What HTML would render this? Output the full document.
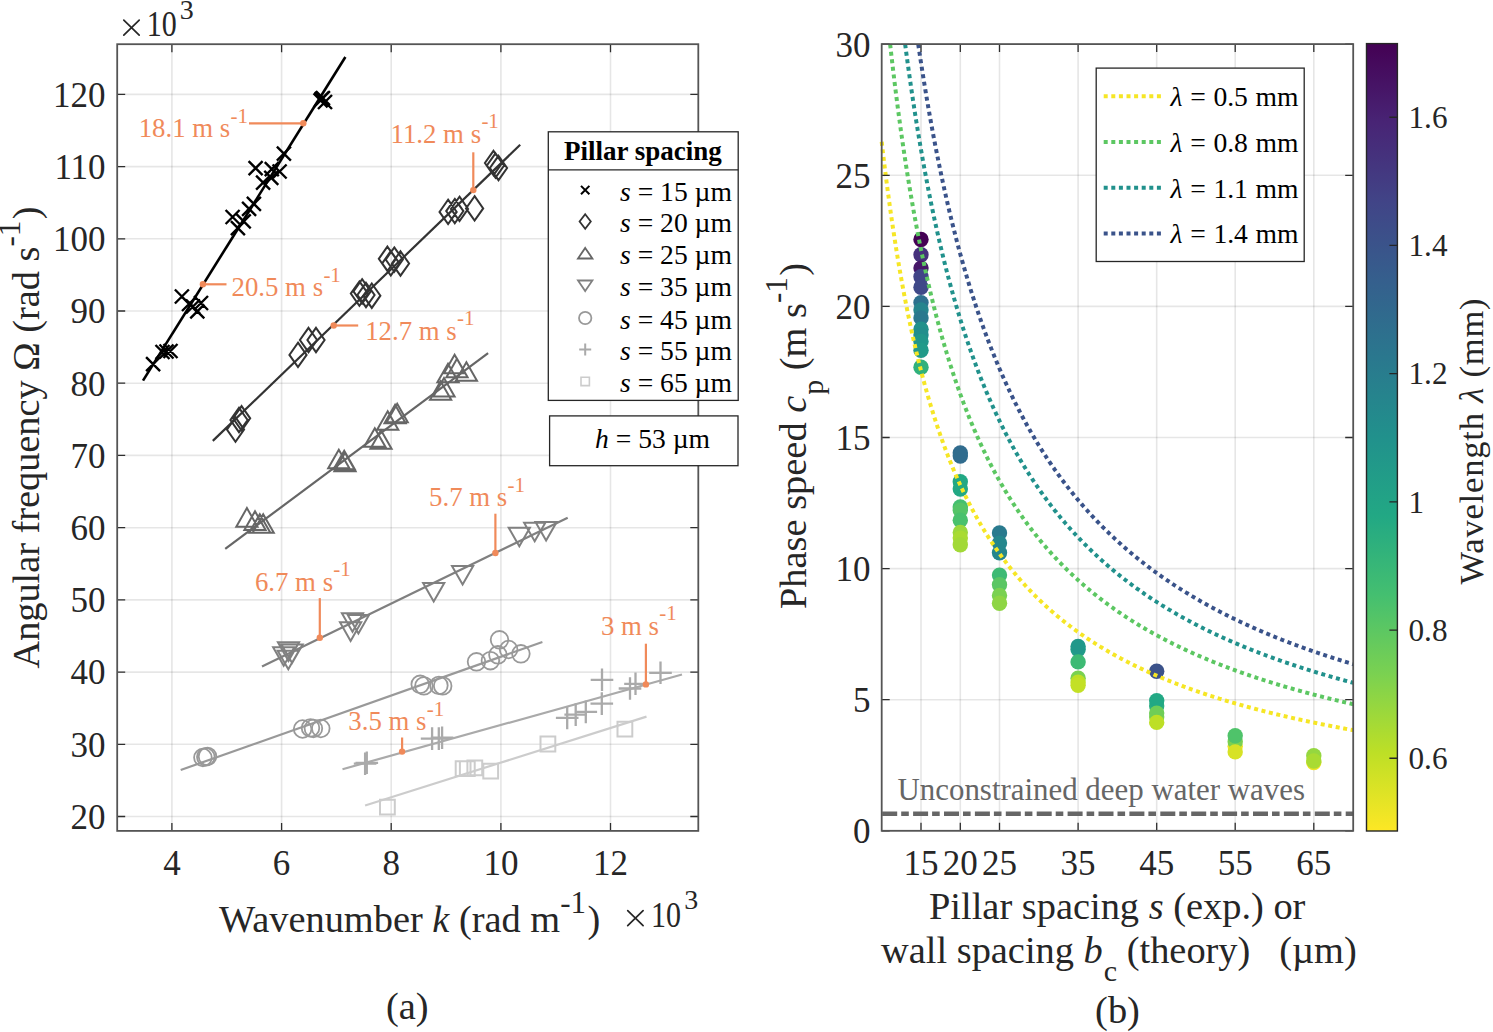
<!DOCTYPE html>
<html><head><meta charset="utf-8"><style>html,body{margin:0;padding:0;background:#fff;width:1493px;height:1032px;overflow:hidden}</style></head>
<body>
<svg width="1493" height="1032" viewBox="0 0 1493 1032" style="display:block;font-family:&quot;Liberation Serif&quot;,serif">
<rect width="100%" height="100%" fill="#fff"/>
<path d="M171.9 44.2V830.9M281.6 44.2V830.9M391.2 44.2V830.9M500.9 44.2V830.9M610.5 44.2V830.9" stroke="#262626" stroke-opacity="0.115" stroke-width="1.6" fill="none"/>
<path d="M117.2 816.5H698.3M117.2 744.3H698.3M117.2 672.1H698.3M117.2 599.9H698.3M117.2 527.7H698.3M117.2 455.4H698.3M117.2 383.2H698.3M117.2 311.0H698.3M117.2 238.8H698.3M117.2 166.6H698.3M117.2 94.4H698.3" stroke="#262626" stroke-opacity="0.115" stroke-width="1.6" fill="none"/>
<path d="M143.0 380.6L345.4 57.0" stroke="#000000" stroke-width="2.6" fill="none"/>
<path d="M146.1 357.1L160.1 371.1M146.1 371.1L160.1 357.1M155.5 345.0L169.5 359.0M155.5 359.0L169.5 345.0M159.5 344.5L173.5 358.5M159.5 358.5L173.5 344.5M163.5 344.0L177.5 358.0M163.5 358.0L177.5 344.0M174.9 289.5L188.9 303.5M174.9 303.5L188.9 289.5M182.0 297.0L196.0 311.0M182.0 311.0L196.0 297.0M186.0 299.5L200.0 313.5M186.0 313.5L200.0 299.5M190.3 304.4L204.3 318.4M190.3 318.4L204.3 304.4M194.0 296.0L208.0 310.0M194.0 310.0L208.0 296.0M225.6 210.0L239.6 224.0M225.6 224.0L239.6 210.0M230.9 221.1L244.9 235.1M230.9 235.1L244.9 221.1M236.7 214.4L250.7 228.4M236.7 228.4L250.7 214.4M242.1 201.8L256.1 215.8M242.1 215.8L256.1 201.8M246.9 196.9L260.9 210.9M246.9 210.9L260.9 196.9M248.6 161.1L262.6 175.1M248.6 175.1L262.6 161.1M256.1 175.6L270.1 189.6M256.1 189.6L270.1 175.6M264.3 170.8L278.3 184.8M264.3 184.8L278.3 170.8M264.8 162.1L278.8 176.1M264.8 176.1L278.8 162.1M272.6 164.5L286.6 178.5M272.6 178.5L286.6 164.5M276.9 146.6L290.9 160.6M276.9 160.6L290.9 146.6M313.6 93.4L327.6 107.4M313.6 107.4L327.6 93.4M314.7 91.8L328.7 105.8M314.7 105.8L328.7 91.8M315.9 91.1L329.9 105.1M315.9 105.1L329.9 91.1M318.0 95.0L332.0 109.0M318.0 109.0L332.0 95.0" stroke="#000000" stroke-width="2.4" fill="none" stroke-linejoin="miter"/>
<path d="M212.8 440.9L520.2 144.8" stroke="#333333" stroke-width="2.2" fill="none"/>
<path d="M235.5 417.4L244.1 429.6L235.5 441.8L226.9 429.6ZM239.0 407.8L247.6 420.0L239.0 432.2L230.4 420.0ZM241.6 406.1L250.2 418.3L241.6 430.5L233.0 418.3ZM298.0 342.7L306.6 354.9L298.0 367.1L289.4 354.9ZM308.5 327.8L317.1 340.0L308.5 352.2L299.9 340.0ZM316.0 327.8L324.6 340.0L316.0 352.2L307.4 340.0ZM359.4 281.4L368.0 293.6L359.4 305.8L350.8 293.6ZM362.1 279.2L370.7 291.4L362.1 303.6L353.5 291.4ZM366.0 282.8L374.6 295.0L366.0 307.2L357.4 295.0ZM371.8 283.5L380.4 295.7L371.8 307.9L363.2 295.7ZM387.4 246.6L396.0 258.8L387.4 271.0L378.8 258.8ZM390.8 251.1L399.4 263.3L390.8 275.5L382.2 263.3ZM394.3 247.4L402.9 259.6L394.3 271.8L385.7 259.6ZM400.5 251.3L409.1 263.5L400.5 275.7L391.9 263.5ZM448.1 199.7L456.7 211.9L448.1 224.1L439.5 211.9ZM454.8 198.9L463.4 211.1L454.8 223.3L446.2 211.1ZM459.5 196.7L468.1 208.9L459.5 221.1L450.9 208.9ZM474.6 196.2L483.2 208.4L474.6 220.6L466.0 208.4ZM493.5 150.8L502.1 163.0L493.5 175.2L484.9 163.0ZM495.5 153.3L504.1 165.5L495.5 177.7L486.9 165.5ZM498.5 155.8L507.1 168.0L498.5 180.2L489.9 168.0Z" stroke="#333333" stroke-width="2.0" fill="none" stroke-linejoin="miter"/>
<path d="M225.2 548.9L488.1 353.2" stroke="#666666" stroke-width="2.2" fill="none"/>
<path d="M246.9 508.1L257.5 526.7L236.3 526.7ZM255.0 511.3L265.6 529.9L244.4 529.9ZM259.8 514.2L270.4 532.8L249.2 532.8ZM263.2 514.2L273.8 532.8L252.6 532.8ZM338.8 449.7L349.4 468.3L328.2 468.3ZM344.2 450.7L354.8 469.3L333.6 469.3ZM345.0 452.7L355.6 471.3L334.4 471.3ZM374.8 428.2L385.4 446.8L364.2 446.8ZM381.0 430.2L391.6 448.8L370.4 448.8ZM387.7 411.2L398.3 429.8L377.1 429.8ZM395.1 404.7L405.7 423.3L384.5 423.3ZM397.2 403.7L407.8 422.3L386.6 422.3ZM440.6 381.2L451.2 399.8L430.0 399.8ZM444.0 378.0L454.6 396.6L433.4 396.6ZM448.0 363.7L458.6 382.3L437.4 382.3ZM454.6 354.7L465.2 373.3L444.0 373.3ZM457.0 358.7L467.6 377.3L446.4 377.3ZM466.4 362.2L477.0 380.8L455.8 380.8Z" stroke="#666666" stroke-width="2.0" fill="none" stroke-linejoin="miter"/>
<path d="M262.0 666.4L567.7 517.7" stroke="#808080" stroke-width="2.2" fill="none"/>
<path d="M288.5 660.9L299.1 642.3L277.9 642.3ZM283.7 665.8L294.3 647.2L273.1 647.2ZM292.1 663.1L302.7 644.5L281.5 644.5ZM288.3 669.3L298.9 650.7L277.7 650.7ZM352.5 631.8L363.1 613.2L341.9 613.2ZM350.6 640.9L361.2 622.3L340.0 622.3ZM358.4 633.6L369.0 615.0L347.8 615.0ZM433.7 601.6L444.3 583.0L423.1 583.0ZM462.6 584.6L473.2 566.0L452.0 566.0ZM519.3 546.3L529.9 527.7L508.7 527.7ZM534.7 541.3L545.3 522.7L524.1 522.7ZM546.1 540.6L556.7 522.0L535.5 522.0Z" stroke="#808080" stroke-width="2.0" fill="none" stroke-linejoin="miter"/>
<path d="M180.7 770.0L542.4 642.0" stroke="#999999" stroke-width="2.2" fill="none"/>
<circle cx="202.9" cy="757.5" r="8.8" stroke="#999999" stroke-width="1.8" fill="none"/><circle cx="205.8" cy="756.9" r="8.8" stroke="#999999" stroke-width="1.8" fill="none"/><circle cx="207.5" cy="756.4" r="8.8" stroke="#999999" stroke-width="1.8" fill="none"/><circle cx="302.6" cy="729" r="8.8" stroke="#999999" stroke-width="1.8" fill="none"/><circle cx="310.5" cy="727.9" r="8.8" stroke="#999999" stroke-width="1.8" fill="none"/><circle cx="313.4" cy="728.5" r="8.8" stroke="#999999" stroke-width="1.8" fill="none"/><circle cx="320.8" cy="728.5" r="8.8" stroke="#999999" stroke-width="1.8" fill="none"/><circle cx="420.2" cy="684.3" r="8.8" stroke="#999999" stroke-width="1.8" fill="none"/><circle cx="423.9" cy="685.9" r="8.8" stroke="#999999" stroke-width="1.8" fill="none"/><circle cx="438.9" cy="685.4" r="8.8" stroke="#999999" stroke-width="1.8" fill="none"/><circle cx="442.7" cy="685.9" r="8.8" stroke="#999999" stroke-width="1.8" fill="none"/><circle cx="476.5" cy="661.8" r="8.8" stroke="#999999" stroke-width="1.8" fill="none"/><circle cx="490.4" cy="660.7" r="8.8" stroke="#999999" stroke-width="1.8" fill="none"/><circle cx="497.9" cy="654.8" r="8.8" stroke="#999999" stroke-width="1.8" fill="none"/><circle cx="499.5" cy="639.8" r="8.8" stroke="#999999" stroke-width="1.8" fill="none"/><circle cx="508.6" cy="649.5" r="8.8" stroke="#999999" stroke-width="1.8" fill="none"/><circle cx="520.9" cy="653.8" r="8.8" stroke="#999999" stroke-width="1.8" fill="none"/>
<path d="M342.5 769.2L682.0 674.5" stroke="#aaaaaa" stroke-width="2.2" fill="none"/>
<path d="M353.8 763.7H376.4M365.1 752.4V775.0M355.5 762.8H378.1M366.8 751.5V774.1M420.8 738.6H443.4M432.1 727.3V749.9M427.5 738.6H450.1M438.8 727.3V749.9M430.8 737.7H453.4M442.1 726.4V749.0M555.9 717.9H578.5M567.2 706.6V729.2M564.4 714.6H587.0M575.7 703.3V725.9M574.5 711.9H597.1M585.8 700.6V723.2M590.5 703.6H613.1M601.8 692.3V714.9M590.7 679.8H613.3M602.0 668.5V691.1M618.7 688.5H641.3M630.0 677.2V699.8M624.2 683.8H646.8M635.5 672.5V695.1M649.2 672.8H671.8M660.5 661.5V684.1" stroke="#aaaaaa" stroke-width="2.3" fill="none" stroke-linejoin="miter"/>
<path d="M365.1 805.5L646.5 716.6" stroke="#cccccc" stroke-width="2.2" fill="none"/>
<path d="M380.0 799.8H394.8V814.6H380.0ZM455.7 761.3H470.5V776.1H455.7ZM459.9 761.3H474.7V776.1H459.9ZM467.4 760.5H482.2V775.3H467.4ZM483.3 763.8H498.1V778.6H483.3ZM540.5 736.6H555.3V751.4H540.5ZM617.5 721.8H632.3V736.6H617.5Z" stroke="#cccccc" stroke-width="2.0" fill="none" stroke-linejoin="miter"/>
<text x="138.7" y="137.2" font-size="26.8" fill="#F08A5A">18.1 m s<tspan font-size="21" dx="0.3" dy="-14.5">-1</tspan></text>
<path d="M249 123.3H303.3" stroke="#F08A5A" stroke-width="2.2" fill="none"/>
<circle cx="303.3" cy="123.3" r="3.2" fill="#F08A5A"/>
<text x="231.5" y="296.3" font-size="26.8" fill="#F08A5A">20.5 m s<tspan font-size="21" dx="0.3" dy="-14.5">-1</tspan></text>
<path d="M202.9 284.3H226.5" stroke="#F08A5A" stroke-width="2.2" fill="none"/>
<circle cx="202.9" cy="284.3" r="3.2" fill="#F08A5A"/>
<text x="390.5" y="142.9" font-size="26.8" fill="#F08A5A">11.2 m s<tspan font-size="21" dx="0.3" dy="-14.5">-1</tspan></text>
<path d="M473.3 152.3V190.1" stroke="#F08A5A" stroke-width="2.2" fill="none"/>
<circle cx="473.3" cy="190.1" r="3.2" fill="#F08A5A"/>
<text x="365.2" y="339.9" font-size="26.8" fill="#F08A5A">12.7 m s<tspan font-size="21" dx="0.3" dy="-14.5">-1</tspan></text>
<path d="M333.7 325.5H358.2" stroke="#F08A5A" stroke-width="2.2" fill="none"/>
<circle cx="333.7" cy="325.5" r="3.2" fill="#F08A5A"/>
<text x="429.1" y="506.2" font-size="26.8" fill="#F08A5A">5.7 m s<tspan font-size="21" dx="0.3" dy="-14.5">-1</tspan></text>
<path d="M495.4 513.7V553" stroke="#F08A5A" stroke-width="2.2" fill="none"/>
<circle cx="495.4" cy="553" r="3.2" fill="#F08A5A"/>
<text x="254.9" y="590.6" font-size="26.8" fill="#F08A5A">6.7 m s<tspan font-size="21" dx="0.3" dy="-14.5">-1</tspan></text>
<path d="M319.8 598.1V637.8" stroke="#F08A5A" stroke-width="2.2" fill="none"/>
<circle cx="319.8" cy="637.8" r="3.2" fill="#F08A5A"/>
<text x="600.9" y="634.7" font-size="26.8" fill="#F08A5A">3 m s<tspan font-size="21" dx="0.3" dy="-14.5">-1</tspan></text>
<path d="M645.9 643.7V684.4" stroke="#F08A5A" stroke-width="2.2" fill="none"/>
<circle cx="645.9" cy="684.4" r="3.2" fill="#F08A5A"/>
<text x="348.3" y="730.0" font-size="26.8" fill="#F08A5A">3.5 m s<tspan font-size="21" dx="0.3" dy="-14.5">-1</tspan></text>
<path d="M402.1 737.5V751.6" stroke="#F08A5A" stroke-width="2.2" fill="none"/>
<circle cx="402.1" cy="751.6" r="3.2" fill="#F08A5A"/>
<path d="M171.9 830.9v-8M171.9 44.2v8M281.6 830.9v-8M281.6 44.2v8M391.2 830.9v-8M391.2 44.2v8M500.9 830.9v-8M500.9 44.2v8M610.5 830.9v-8M610.5 44.2v8M117.2 816.5h8M698.3 816.5h-8M117.2 744.3h8M698.3 744.3h-8M117.2 672.1h8M698.3 672.1h-8M117.2 599.9h8M698.3 599.9h-8M117.2 527.7h8M698.3 527.7h-8M117.2 455.4h8M698.3 455.4h-8M117.2 383.2h8M698.3 383.2h-8M117.2 311.0h8M698.3 311.0h-8M117.2 238.8h8M698.3 238.8h-8M117.2 166.6h8M698.3 166.6h-8M117.2 94.4h8M698.3 94.4h-8" stroke="#2e2e2e" stroke-width="1.3" fill="none"/>
<rect x="117.2" y="44.2" width="581.1" height="786.7" stroke="#555555" stroke-width="1.8" fill="none"/>
<text x="171.9" y="874.6" font-size="35" text-anchor="middle" fill="#262626" >4</text>
<text x="281.6" y="874.6" font-size="35" text-anchor="middle" fill="#262626" >6</text>
<text x="391.2" y="874.6" font-size="35" text-anchor="middle" fill="#262626" >8</text>
<text x="500.9" y="874.6" font-size="35" text-anchor="middle" fill="#262626" >10</text>
<text x="610.5" y="874.6" font-size="35" text-anchor="middle" fill="#262626" >12</text>
<text x="105.6" y="828.8" font-size="35" text-anchor="end" fill="#262626" >20</text>
<text x="105.6" y="756.6" font-size="35" text-anchor="end" fill="#262626" >30</text>
<text x="105.6" y="684.4" font-size="35" text-anchor="end" fill="#262626" >40</text>
<text x="105.6" y="612.2" font-size="35" text-anchor="end" fill="#262626" >50</text>
<text x="105.6" y="540.0" font-size="35" text-anchor="end" fill="#262626" >60</text>
<text x="105.6" y="467.8" font-size="35" text-anchor="end" fill="#262626" >70</text>
<text x="105.6" y="395.5" font-size="35" text-anchor="end" fill="#262626" >80</text>
<text x="105.6" y="323.3" font-size="35" text-anchor="end" fill="#262626" >90</text>
<text x="105.6" y="251.1" font-size="35" text-anchor="end" fill="#262626" >100</text>
<text x="105.6" y="178.9" font-size="35" text-anchor="end" fill="#262626" >110</text>
<text x="105.6" y="106.7" font-size="35" text-anchor="end" fill="#262626" >120</text>
<path d="M123.8 20.1L139.2 35.1M123.8 35.1L139.2 20.1" stroke="#262626" stroke-width="1.7" stroke-linecap="round"/>
<text x="146.8" y="36.1" font-size="35" fill="#262626" textLength="30" lengthAdjust="spacingAndGlyphs">10</text>
<text x="179.8" y="19.0" font-size="28" fill="#262626">3</text>
<path d="M627.7 910.7L643.1 925.7M627.7 925.7L643.1 910.7" stroke="#262626" stroke-width="1.7" stroke-linecap="round"/>
<text x="651.0" y="926.7" font-size="35" fill="#262626" textLength="30" lengthAdjust="spacingAndGlyphs">10</text>
<text x="684.2" y="909.1" font-size="28" fill="#262626">3</text>
<text x="219" y="931.5" font-size="38.4" fill="#262626">Wavenumber <tspan font-style="italic">k</tspan> (rad m<tspan font-size="31" dy="-19">-1</tspan><tspan dx="1.5" dy="19">)</tspan></text>
<text transform="translate(39.4,668.5) rotate(-90)" x="0" y="0" font-size="38.3" fill="#262626">Angular frequency Ω (rad s<tspan font-size="31" dy="-19">-1</tspan><tspan dx="1.5" dy="19">)</tspan></text>
<rect x="548.3" y="131.8" width="189.9" height="268.6" fill="#fff" stroke="#262626" stroke-width="1.3"/>
<path d="M548.3 169.8H738.2" stroke="#262626" stroke-width="1.2"/>
<text x="564" y="159.7" font-size="27.0" font-weight="bold" fill="#000">Pillar spacing</text>
<path d="M581.0 185.9L589.4 194.3M581.0 194.3L589.4 185.9" stroke="#000000" stroke-width="2.0" fill="none"/>
<text x="620" y="200.7" font-size="27.6" fill="#000"><tspan font-style="italic">s</tspan> = 15 µm</text>
<path d="M585.2 214.3L590.8 221.5L585.2 228.7L579.6 221.5Z" stroke="#333333" stroke-width="1.8" fill="none"/>
<text x="620" y="232.1" font-size="27.6" fill="#000"><tspan font-style="italic">s</tspan> = 20 µm</text>
<path d="M585.2 247.9L592.4 258.5L578.0 258.5Z" stroke="#666666" stroke-width="1.8" fill="none"/>
<text x="620" y="263.8" font-size="27.6" fill="#000"><tspan font-style="italic">s</tspan> = 25 µm</text>
<path d="M585.2 291.1L592.4 280.5L578.0 280.5Z" stroke="#808080" stroke-width="1.8" fill="none"/>
<text x="620" y="296.4" font-size="27.6" fill="#000"><tspan font-style="italic">s</tspan> = 35 µm</text>
<circle cx="585.2" cy="318.0" r="6.2" stroke="#999999" stroke-width="1.8" fill="none"/>
<text x="620" y="328.6" font-size="27.6" fill="#000"><tspan font-style="italic">s</tspan> = 45 µm</text>
<path d="M579.2 349.6H591.2M585.2 343.6V355.6" stroke="#aaaaaa" stroke-width="2.0" fill="none"/>
<text x="620" y="360.2" font-size="27.6" fill="#000"><tspan font-style="italic">s</tspan> = 55 µm</text>
<path d="M581.0 377.2H589.4V385.6H581.0Z" stroke="#cccccc" stroke-width="1.6" fill="none"/>
<text x="620" y="392.0" font-size="27.6" fill="#000"><tspan font-style="italic">s</tspan> = 65 µm</text>
<rect x="549.6" y="415.9" width="188.4" height="49.8" fill="#fff" stroke="#262626" stroke-width="1.3"/>
<text x="595" y="447.8" font-size="27.6" fill="#000"><tspan font-style="italic">h</tspan> = 53 µm</text>
<text x="407.2" y="1019.0" font-size="38.4" text-anchor="middle" fill="#262626" >(a)</text>
<text x="1117.5" y="1022.6" font-size="38.4" text-anchor="middle" fill="#262626" >(b)</text>
<path d="M921.0 44.1V830.8M960.3 44.1V830.8M999.5 44.1V830.8M1078.1 44.1V830.8M1156.7 44.1V830.8M1235.2 44.1V830.8M1313.8 44.1V830.8" stroke="#262626" stroke-opacity="0.115" stroke-width="1.6" fill="none"/>
<path d="M881.7 830.8H1353.2M881.7 699.7H1353.2M881.7 568.6H1353.2M881.7 437.5H1353.2M881.7 306.4H1353.2M881.7 175.3H1353.2M881.7 44.2H1353.2" stroke="#262626" stroke-opacity="0.115" stroke-width="1.6" fill="none"/>
<path d="M882.2 813.7H1353.2" stroke="#666666" stroke-width="4.4" stroke-dasharray="15 4 7.6 4.3" fill="none"/>
<text x="897.5" y="800.1" font-size="30.9" fill="#666666">Unconstrained deep water waves</text>
<circle cx="921.0" cy="239.5" r="7.7" fill="#440154"/>
<circle cx="921.0" cy="254.8" r="7.7" fill="#45317c"/>
<circle cx="921.0" cy="268.1" r="7.7" fill="#461668"/>
<circle cx="921.0" cy="276.8" r="7.7" fill="#414487"/>
<circle cx="921.0" cy="287.3" r="7.7" fill="#3f4988"/>
<circle cx="921.0" cy="302.6" r="7.7" fill="#2d708e"/>
<circle cx="921.0" cy="310" r="7.7" fill="#26848d"/>
<circle cx="921.0" cy="317.9" r="7.7" fill="#2a788e"/>
<circle cx="921.0" cy="329.2" r="7.7" fill="#21918c"/>
<circle cx="921.0" cy="335" r="7.7" fill="#228e8c"/>
<circle cx="921.0" cy="341.4" r="7.7" fill="#21968a"/>
<circle cx="921.0" cy="350.2" r="7.7" fill="#219a89"/>
<circle cx="921.0" cy="367.2" r="7.7" fill="#30b17c"/>
<circle cx="960.3" cy="453" r="7.7" fill="#306c8e"/>
<circle cx="960.3" cy="456" r="7.7" fill="#306c8e"/>
<circle cx="960.3" cy="481.8" r="7.7" fill="#22a884"/>
<circle cx="960.3" cy="489" r="7.7" fill="#22a884"/>
<circle cx="960.3" cy="506.9" r="7.7" fill="#44bf70"/>
<circle cx="960.3" cy="510.2" r="7.7" fill="#54c467"/>
<circle cx="960.3" cy="520.3" r="7.7" fill="#49c16d"/>
<circle cx="960.3" cy="532.5" r="7.7" fill="#9cd83c"/>
<circle cx="960.3" cy="538.1" r="7.7" fill="#a9db33"/>
<circle cx="960.3" cy="544.8" r="7.7" fill="#a2d937"/>
<circle cx="999.5" cy="532.9" r="7.7" fill="#297a8e"/>
<circle cx="999.5" cy="543.1" r="7.7" fill="#25878d"/>
<circle cx="999.5" cy="552.8" r="7.7" fill="#25878d"/>
<circle cx="999.5" cy="575.1" r="7.7" fill="#3dba74"/>
<circle cx="999.5" cy="584.8" r="7.7" fill="#5ac664"/>
<circle cx="999.5" cy="595.5" r="7.7" fill="#7ad151"/>
<circle cx="999.5" cy="603.3" r="7.7" fill="#8ed544"/>
<circle cx="1078.1" cy="649.5" r="7.7" fill="#229c88"/>
<circle cx="1078.1" cy="646.4" r="7.7" fill="#21988a"/>
<circle cx="1078.1" cy="661.9" r="7.7" fill="#3dba74"/>
<circle cx="1078.1" cy="678.2" r="7.7" fill="#7ad151"/>
<circle cx="1078.1" cy="682.1" r="7.7" fill="#bddf26"/>
<circle cx="1078.1" cy="685.2" r="7.7" fill="#c3e026"/>
<circle cx="1156.7" cy="671.2" r="7.7" fill="#3b528a"/>
<circle cx="1156.7" cy="706" r="7.7" fill="#29ad80"/>
<circle cx="1156.7" cy="700.7" r="7.7" fill="#22a884"/>
<circle cx="1156.7" cy="717" r="7.7" fill="#7ad151"/>
<circle cx="1156.7" cy="713.1" r="7.7" fill="#6fcd57"/>
<circle cx="1156.7" cy="722.4" r="7.7" fill="#bddf26"/>
<circle cx="1235.2" cy="746.2" r="7.7" fill="#f0e525"/>
<circle cx="1235.2" cy="741.8" r="7.7" fill="#7ad151"/>
<circle cx="1235.2" cy="735.7" r="7.7" fill="#4fc36a"/>
<circle cx="1235.2" cy="751.9" r="7.7" fill="#d7e226"/>
<circle cx="1313.8" cy="762.5" r="7.7" fill="#f0e525"/>
<circle cx="1313.8" cy="755.8" r="7.7" fill="#95d740"/>
<circle cx="1313.8" cy="761" r="7.7" fill="#a9db33"/>
<clipPath id="rc"><rect x="881.7" y="44.1" width="471.5" height="786.7"/></clipPath>
<path d="M881.70 141.81L882.09 145.23L882.49 148.61L882.88 151.96L883.27 155.27L883.66 158.56L884.06 161.81L884.45 165.02L884.84 168.21L885.24 171.37L885.63 174.50L886.02 177.60L886.41 180.67L886.81 183.71L887.20 186.72L887.59 189.70L887.98 192.66L888.38 195.59L888.77 198.49L889.16 201.36L889.56 204.21L889.95 207.03L890.34 209.83L890.73 212.61L891.13 215.35L891.52 218.08L891.91 220.78L892.31 223.45L892.70 226.10L893.09 228.73L893.48 231.34L893.88 233.92L894.27 236.49L894.66 239.02L895.06 241.54L895.45 244.04L895.84 246.51L896.23 248.97L896.63 251.40L897.02 253.82L897.41 256.21L897.80 258.58L898.20 260.94L898.59 263.27L898.98 265.59L899.38 267.88L899.77 270.16L900.16 272.42L900.55 274.66L900.95 276.88L901.34 279.09L901.73 281.27L902.13 283.45L902.52 285.60L902.91 287.73L903.30 289.85L903.70 291.96L904.09 294.04L904.48 296.11L904.88 298.17L905.27 300.21L905.66 302.23L906.05 304.24L906.45 306.23L906.84 308.21L907.23 310.17L907.62 312.12L908.02 314.05L908.41 315.97L908.80 317.87L909.20 319.76L909.59 321.64L909.98 323.50L910.37 325.35L910.77 327.18L911.16 329.00L911.55 330.81L911.95 332.61L912.34 334.39L912.73 336.16L913.12 337.92L913.52 339.66L913.91 341.40L914.30 343.12L914.70 344.82L915.09 346.52L915.48 348.20L915.87 349.88L916.27 351.54L916.66 353.19L917.05 354.82L917.44 356.45L917.84 358.07L918.23 359.67L918.62 361.26L919.02 362.85L919.41 364.42L919.80 365.98L920.19 367.53L920.59 369.07L920.98 370.60L921.37 372.12L921.77 373.63L922.16 375.13L922.55 376.62L922.94 378.10L923.34 379.57L923.73 381.04L924.12 382.49L924.52 383.93L924.91 385.36L925.30 386.79L925.69 388.20L926.09 389.61L926.48 391.00L926.87 392.39L927.26 393.77L927.66 395.14L928.05 396.50L928.44 397.86L928.84 399.20L929.23 400.54L929.62 401.87L930.01 403.19L930.41 404.50L930.80 405.80L931.19 407.10L931.59 408.38L931.98 409.66L932.37 410.94L932.76 412.20L933.16 413.46L933.55 414.71L933.94 415.95L934.34 417.18L934.73 418.41L935.12 419.63L935.51 420.84L935.91 422.05L936.30 423.24L936.69 424.43L937.08 425.62L937.48 426.80L937.87 427.97L938.26 429.13L938.66 430.29L939.05 431.44L939.44 432.58L939.83 433.72L940.23 434.85L940.62 435.97L941.01 437.09L941.41 438.20L941.80 439.30L942.19 440.40L942.58 441.49L942.98 442.58L943.37 443.66L943.76 444.73L944.16 445.80L944.55 446.87L944.94 447.92L945.33 448.97L945.73 450.02L946.12 451.06L946.51 452.09L946.90 453.12L947.30 454.14L947.69 455.15L948.08 456.17L948.48 457.17L948.87 458.17L949.26 459.17L949.65 460.15L950.05 461.14L950.44 462.12L950.83 463.09L951.23 464.06L951.62 465.02L952.01 465.98L952.40 466.93L952.80 467.88L953.19 468.83L953.58 469.76L953.98 470.70L954.37 471.63L954.76 472.55L955.15 473.47L955.55 474.38L955.94 475.29L956.33 476.20L956.72 477.10L957.12 477.99L957.51 478.88L957.90 479.77L958.30 480.65L958.69 481.53L959.08 482.40L959.47 483.27L959.87 484.14L960.26 485.00L960.65 485.85L961.05 486.70L961.44 487.55L961.83 488.39L962.22 489.23L962.62 490.07L963.01 490.90L963.40 491.73L963.80 492.55L964.19 493.37L964.58 494.18L964.97 494.99L965.37 495.80L965.76 496.60L966.15 497.40L966.54 498.20L966.94 498.99L967.33 499.77L967.72 500.56L968.12 501.34L968.51 502.11L968.90 502.89L969.29 503.66L969.69 504.42L970.08 505.18L970.47 505.94L970.87 506.70L971.26 507.45L971.65 508.20L972.04 508.94L972.44 509.68L972.83 510.42L973.22 511.15L973.62 511.88L974.01 512.61L974.40 513.33L974.79 514.05L975.19 514.77L975.58 515.48L975.97 516.19L976.36 516.90L976.76 517.61L977.15 518.31L977.54 519.01L977.94 519.70L978.33 520.39L978.72 521.08L979.11 521.77L979.51 522.45L979.90 523.13L980.29 523.80L980.69 524.48L981.08 525.15L981.47 525.82L981.86 526.48L982.26 527.14L982.65 527.80L983.04 528.46L983.44 529.11L983.83 529.76L984.22 530.41L984.61 531.05L985.01 531.69L985.40 532.33L985.79 532.97L986.18 533.60L986.58 534.23L986.97 534.86L987.36 535.49L987.76 536.11L988.15 536.73L988.54 537.35L988.93 537.96L989.33 538.57L989.72 539.18L990.11 539.79L990.51 540.39L990.90 541.00L991.29 541.60L991.68 542.19L992.08 542.79L992.47 543.38L992.86 543.97L993.26 544.56L993.65 545.14L994.04 545.72L994.43 546.30L994.83 546.88L995.22 547.46L995.61 548.03L996.00 548.60L996.40 549.17L996.79 549.73L997.18 550.30L997.58 550.86L997.97 551.42L998.36 551.98L998.75 552.53L999.15 553.08L999.54 553.63L999.93 554.18L1000.33 554.73L1000.72 555.27L1001.11 555.81L1001.50 556.35L1001.90 556.89L1002.29 557.42L1002.68 557.96L1003.08 558.49L1003.47 559.02L1003.86 559.54L1004.25 560.07L1004.65 560.59L1005.04 561.11L1005.43 561.63L1005.82 562.15L1006.22 562.66L1006.61 563.17L1007.00 563.68L1007.40 564.19L1007.79 564.70L1008.18 565.20L1008.57 565.71L1008.97 566.21L1009.36 566.71L1009.75 567.20L1010.15 567.70L1010.54 568.19L1010.93 568.68L1011.32 569.17L1011.72 569.66L1012.11 570.15L1012.50 570.63L1012.90 571.11L1013.29 571.59L1013.68 572.07L1014.07 572.55L1014.47 573.02L1014.86 573.50L1015.25 573.97L1015.64 574.44L1016.04 574.91L1016.43 575.37L1016.82 575.84L1017.22 576.30L1017.61 576.76L1018.00 577.22L1018.39 577.68L1018.79 578.14L1019.18 578.59L1019.57 579.04L1019.97 579.50L1020.36 579.95L1020.75 580.39L1021.14 580.84L1021.54 581.28L1021.93 581.73L1022.32 582.17L1022.72 582.61L1023.11 583.05L1023.50 583.49L1023.89 583.92L1024.29 584.35L1024.68 584.79L1025.07 585.22L1025.46 585.65L1025.86 586.07L1026.25 586.50L1026.64 586.93L1027.04 587.35L1027.43 587.77L1027.82 588.19L1028.21 588.61L1028.61 589.03L1029.00 589.44L1029.39 589.86L1029.79 590.27L1030.18 590.68L1030.57 591.09L1030.96 591.50L1031.36 591.91L1031.75 592.31L1032.14 592.72L1032.54 593.12L1032.93 593.52L1033.32 593.92L1033.71 594.32L1034.11 594.72L1034.50 595.12L1034.89 595.51L1035.28 595.91L1035.68 596.30L1036.07 596.69L1036.46 597.08L1036.86 597.47L1037.25 597.85L1037.64 598.24L1038.03 598.63L1038.43 599.01L1038.82 599.39L1039.21 599.77L1039.61 600.15L1040.00 600.53L1040.39 600.91L1040.78 601.28L1041.18 601.66L1041.57 602.03L1041.96 602.40L1042.36 602.77L1042.75 603.14L1043.14 603.51L1043.53 603.88L1043.93 604.24L1044.32 604.61L1044.71 604.97L1045.10 605.33L1045.50 605.69L1045.89 606.05L1046.28 606.41L1046.68 606.77L1047.07 607.13L1047.46 607.48L1047.85 607.84L1048.25 608.19L1048.64 608.54L1049.03 608.89L1049.43 609.24L1049.82 609.59L1050.21 609.94L1050.60 610.28L1051.00 610.63L1051.39 610.97L1051.78 611.32L1052.18 611.66L1052.57 612.00L1052.96 612.34L1053.35 612.68L1053.75 613.02L1054.14 613.35L1054.53 613.69L1054.92 614.02L1055.32 614.36L1055.71 614.69L1056.10 615.02L1056.50 615.35L1056.89 615.68L1057.28 616.01L1057.67 616.34L1058.07 616.66L1058.46 616.99L1058.85 617.31L1059.25 617.64L1059.64 617.96L1060.03 618.28L1060.42 618.60L1060.82 618.92L1061.21 619.24L1061.60 619.56L1062.00 619.87L1062.39 620.19L1062.78 620.50L1063.17 620.82L1063.57 621.13L1063.96 621.44L1064.35 621.75L1064.74 622.06L1065.14 622.37L1065.53 622.68L1065.92 622.99L1066.32 623.29L1066.71 623.60L1067.10 623.90L1067.49 624.21L1067.89 624.51L1068.28 624.81L1068.67 625.11L1069.07 625.41L1069.46 625.71L1069.85 626.01L1070.24 626.31L1070.64 626.60L1071.03 626.90L1071.42 627.19L1071.82 627.49L1072.21 627.78L1072.60 628.07L1072.99 628.36L1073.39 628.65L1073.78 628.94L1074.17 629.23L1074.56 629.52L1074.96 629.81L1075.35 630.09L1075.74 630.38L1076.14 630.66L1076.53 630.95L1076.92 631.23L1077.31 631.51L1077.71 631.79L1078.10 632.07L1078.49 632.35L1078.89 632.63L1079.28 632.91L1079.67 633.19L1080.06 633.46L1080.46 633.74L1080.85 634.02L1081.24 634.29L1081.64 634.56L1082.03 634.84L1082.42 635.11L1082.81 635.38L1083.21 635.65L1083.60 635.92L1083.99 636.19L1084.38 636.46L1084.78 636.72L1085.17 636.99L1085.56 637.26L1085.96 637.52L1086.35 637.79L1086.74 638.05L1087.13 638.31L1087.53 638.57L1087.92 638.84L1088.31 639.10L1088.71 639.36L1089.10 639.62L1089.49 639.88L1089.88 640.13L1090.28 640.39L1090.67 640.65L1091.06 640.90L1091.46 641.16L1091.85 641.41L1092.24 641.67L1092.63 641.92L1093.03 642.17L1093.42 642.42L1093.81 642.67L1094.20 642.92L1094.60 643.17L1094.99 643.42L1095.38 643.67L1095.78 643.92L1096.17 644.17L1096.56 644.41L1096.95 644.66L1097.35 644.90L1097.74 645.15L1098.13 645.39L1098.53 645.63L1098.92 645.88L1099.31 646.12L1099.70 646.36L1100.10 646.60L1100.49 646.84L1100.88 647.08L1101.28 647.32L1101.67 647.56L1102.06 647.79L1102.45 648.03L1102.85 648.27L1103.24 648.50L1103.63 648.74L1104.02 648.97L1104.42 649.20L1104.81 649.44L1105.20 649.67L1105.60 649.90L1105.99 650.13L1106.38 650.36L1106.77 650.59L1107.17 650.82L1107.56 651.05L1107.95 651.28L1108.35 651.51L1108.74 651.73L1109.13 651.96L1109.52 652.19L1109.92 652.41L1110.31 652.64L1110.70 652.86L1111.10 653.09L1111.49 653.31L1111.88 653.53L1112.27 653.75L1112.67 653.97L1113.06 654.19L1113.45 654.42L1113.84 654.63L1114.24 654.85L1114.63 655.07L1115.02 655.29L1115.42 655.51L1115.81 655.72L1116.20 655.94L1116.59 656.16L1116.99 656.37L1117.38 656.59L1117.77 656.80L1118.17 657.02L1118.56 657.23L1118.95 657.44L1119.34 657.65L1119.74 657.86L1120.13 658.08L1120.52 658.29L1120.92 658.50L1121.31 658.71L1121.70 658.91L1122.09 659.12L1122.49 659.33L1122.88 659.54L1123.27 659.75L1123.66 659.95L1124.06 660.16L1124.45 660.36L1124.84 660.57L1125.24 660.77L1125.63 660.98L1126.02 661.18L1126.41 661.38L1126.81 661.58L1127.20 661.79L1127.59 661.99L1127.99 662.19L1128.38 662.39L1128.77 662.59L1129.16 662.79L1129.56 662.99L1129.95 663.19L1130.34 663.38L1130.74 663.58L1131.13 663.78L1131.52 663.98L1131.91 664.17L1132.31 664.37L1132.70 664.56L1133.09 664.76L1133.48 664.95L1133.88 665.15L1134.27 665.34L1134.66 665.53L1135.06 665.73L1135.45 665.92L1135.84 666.11L1136.23 666.30L1136.63 666.49L1137.02 666.68L1137.41 666.87L1137.81 667.06L1138.20 667.25L1138.59 667.44L1138.98 667.63L1139.38 667.81L1139.77 668.00L1140.16 668.19L1140.56 668.37L1140.95 668.56L1141.34 668.74L1141.73 668.93L1142.13 669.11L1142.52 669.30L1142.91 669.48L1143.30 669.66L1143.70 669.85L1144.09 670.03L1144.48 670.21L1144.88 670.39L1145.27 670.57L1145.66 670.76L1146.05 670.94L1146.45 671.12L1146.84 671.29L1147.23 671.47L1147.63 671.65L1148.02 671.83L1148.41 672.01L1148.80 672.19L1149.20 672.36L1149.59 672.54L1149.98 672.72L1150.38 672.89L1150.77 673.07L1151.16 673.24L1151.55 673.42L1151.95 673.59L1152.34 673.77L1152.73 673.94L1153.12 674.11L1153.52 674.28L1153.91 674.46L1154.30 674.63L1154.70 674.80L1155.09 674.97L1155.48 675.14L1155.87 675.31L1156.27 675.48L1156.66 675.65L1157.05 675.82L1157.45 675.99L1157.84 676.16L1158.23 676.33L1158.62 676.50L1159.02 676.66L1159.41 676.83L1159.80 677.00L1160.20 677.16L1160.59 677.33L1160.98 677.49L1161.37 677.66L1161.77 677.82L1162.16 677.99L1162.55 678.15L1162.94 678.32L1163.34 678.48L1163.73 678.64L1164.12 678.81L1164.52 678.97L1164.91 679.13L1165.30 679.29L1165.69 679.45L1166.09 679.61L1166.48 679.78L1166.87 679.94L1167.27 680.10L1167.66 680.25L1168.05 680.41L1168.44 680.57L1168.84 680.73L1169.23 680.89L1169.62 681.05L1170.02 681.21L1170.41 681.36L1170.80 681.52L1171.19 681.68L1171.59 681.83L1171.98 681.99L1172.37 682.14L1172.76 682.30L1173.16 682.45L1173.55 682.61L1173.94 682.76L1174.34 682.92L1174.73 683.07L1175.12 683.22L1175.51 683.38L1175.91 683.53L1176.30 683.68L1176.69 683.83L1177.09 683.98L1177.48 684.14L1177.87 684.29L1178.26 684.44L1178.66 684.59L1179.05 684.74L1179.44 684.89L1179.84 685.04L1180.23 685.19L1180.62 685.33L1181.01 685.48L1181.41 685.63L1181.80 685.78L1182.19 685.93L1182.58 686.07L1182.98 686.22L1183.37 686.37L1183.76 686.51L1184.16 686.66L1184.55 686.81L1184.94 686.95L1185.33 687.10L1185.73 687.24L1186.12 687.39L1186.51 687.53L1186.91 687.67L1187.30 687.82L1187.69 687.96L1188.08 688.10L1188.48 688.25L1188.87 688.39L1189.26 688.53L1189.66 688.67L1190.05 688.81L1190.44 688.96L1190.83 689.10L1191.23 689.24L1191.62 689.38L1192.01 689.52L1192.40 689.66L1192.80 689.80L1193.19 689.94L1193.58 690.08L1193.98 690.22L1194.37 690.35L1194.76 690.49L1195.15 690.63L1195.55 690.77L1195.94 690.91L1196.33 691.04L1196.73 691.18L1197.12 691.32L1197.51 691.45L1197.90 691.59L1198.30 691.72L1198.69 691.86L1199.08 691.99L1199.48 692.13L1199.87 692.26L1200.26 692.40L1200.65 692.53L1201.05 692.67L1201.44 692.80L1201.83 692.93L1202.22 693.07L1202.62 693.20L1203.01 693.33L1203.40 693.46L1203.80 693.60L1204.19 693.73L1204.58 693.86L1204.97 693.99L1205.37 694.12L1205.76 694.25L1206.15 694.38L1206.55 694.51L1206.94 694.64L1207.33 694.77L1207.72 694.90L1208.12 695.03L1208.51 695.16L1208.90 695.29L1209.30 695.42L1209.69 695.55L1210.08 695.68L1210.47 695.80L1210.87 695.93L1211.26 696.06L1211.65 696.19L1212.04 696.31L1212.44 696.44L1212.83 696.56L1213.22 696.69L1213.62 696.82L1214.01 696.94L1214.40 697.07L1214.79 697.19L1215.19 697.32L1215.58 697.44L1215.97 697.57L1216.37 697.69L1216.76 697.81L1217.15 697.94L1217.54 698.06L1217.94 698.18L1218.33 698.31L1218.72 698.43L1219.12 698.55L1219.51 698.68L1219.90 698.80L1220.29 698.92L1220.69 699.04L1221.08 699.16L1221.47 699.28L1221.86 699.40L1222.26 699.53L1222.65 699.65L1223.04 699.77L1223.44 699.89L1223.83 700.01L1224.22 700.13L1224.61 700.24L1225.01 700.36L1225.40 700.48L1225.79 700.60L1226.19 700.72L1226.58 700.84L1226.97 700.96L1227.36 701.07L1227.76 701.19L1228.15 701.31L1228.54 701.43L1228.94 701.54L1229.33 701.66L1229.72 701.78L1230.11 701.89L1230.51 702.01L1230.90 702.12L1231.29 702.24L1231.68 702.36L1232.08 702.47L1232.47 702.59L1232.86 702.70L1233.26 702.81L1233.65 702.93L1234.04 703.04L1234.43 703.16L1234.83 703.27L1235.22 703.38L1235.61 703.50L1236.01 703.61L1236.40 703.72L1236.79 703.84L1237.18 703.95L1237.58 704.06L1237.97 704.17L1238.36 704.29L1238.76 704.40L1239.15 704.51L1239.54 704.62L1239.93 704.73L1240.33 704.84L1240.72 704.95L1241.11 705.06L1241.50 705.17L1241.90 705.28L1242.29 705.39L1242.68 705.50L1243.08 705.61L1243.47 705.72L1243.86 705.83L1244.25 705.94L1244.65 706.05L1245.04 706.16L1245.43 706.27L1245.83 706.37L1246.22 706.48L1246.61 706.59L1247.00 706.70L1247.40 706.81L1247.79 706.91L1248.18 707.02L1248.58 707.13L1248.97 707.23L1249.36 707.34L1249.75 707.45L1250.15 707.55L1250.54 707.66L1250.93 707.76L1251.32 707.87L1251.72 707.97L1252.11 708.08L1252.50 708.18L1252.90 708.29L1253.29 708.39L1253.68 708.50L1254.07 708.60L1254.47 708.71L1254.86 708.81L1255.25 708.91L1255.65 709.02L1256.04 709.12L1256.43 709.22L1256.82 709.33L1257.22 709.43L1257.61 709.53L1258.00 709.64L1258.40 709.74L1258.79 709.84L1259.18 709.94L1259.57 710.04L1259.97 710.14L1260.36 710.25L1260.75 710.35L1261.14 710.45L1261.54 710.55L1261.93 710.65L1262.32 710.75L1262.72 710.85L1263.11 710.95L1263.50 711.05L1263.89 711.15L1264.29 711.25L1264.68 711.35L1265.07 711.45L1265.47 711.55L1265.86 711.65L1266.25 711.75L1266.64 711.85L1267.04 711.94L1267.43 712.04L1267.82 712.14L1268.22 712.24L1268.61 712.34L1269.00 712.43L1269.39 712.53L1269.79 712.63L1270.18 712.73L1270.57 712.82L1270.96 712.92L1271.36 713.02L1271.75 713.11L1272.14 713.21L1272.54 713.31L1272.93 713.40L1273.32 713.50L1273.71 713.59L1274.11 713.69L1274.50 713.78L1274.89 713.88L1275.29 713.97L1275.68 714.07L1276.07 714.16L1276.46 714.26L1276.86 714.35L1277.25 714.45L1277.64 714.54L1278.04 714.64L1278.43 714.73L1278.82 714.82L1279.21 714.92L1279.61 715.01L1280.00 715.10L1280.39 715.20L1280.78 715.29L1281.18 715.38L1281.57 715.47L1281.96 715.57L1282.36 715.66L1282.75 715.75L1283.14 715.84L1283.53 715.94L1283.93 716.03L1284.32 716.12L1284.71 716.21L1285.11 716.30L1285.50 716.39L1285.89 716.48L1286.28 716.57L1286.68 716.66L1287.07 716.76L1287.46 716.85L1287.86 716.94L1288.25 717.03L1288.64 717.12L1289.03 717.21L1289.43 717.30L1289.82 717.38L1290.21 717.47L1290.60 717.56L1291.00 717.65L1291.39 717.74L1291.78 717.83L1292.18 717.92L1292.57 718.01L1292.96 718.10L1293.35 718.18L1293.75 718.27L1294.14 718.36L1294.53 718.45L1294.93 718.54L1295.32 718.62L1295.71 718.71L1296.10 718.80L1296.50 718.88L1296.89 718.97L1297.28 719.06L1297.68 719.14L1298.07 719.23L1298.46 719.32L1298.85 719.40L1299.25 719.49L1299.64 719.58L1300.03 719.66L1300.42 719.75L1300.82 719.83L1301.21 719.92L1301.60 720.00L1302.00 720.09L1302.39 720.17L1302.78 720.26L1303.17 720.34L1303.57 720.43L1303.96 720.51L1304.35 720.60L1304.75 720.68L1305.14 720.77L1305.53 720.85L1305.92 720.93L1306.32 721.02L1306.71 721.10L1307.10 721.18L1307.50 721.27L1307.89 721.35L1308.28 721.43L1308.67 721.52L1309.07 721.60L1309.46 721.68L1309.85 721.77L1310.24 721.85L1310.64 721.93L1311.03 722.01L1311.42 722.09L1311.82 722.18L1312.21 722.26L1312.60 722.34L1312.99 722.42L1313.39 722.50L1313.78 722.58L1314.17 722.66L1314.57 722.75L1314.96 722.83L1315.35 722.91L1315.74 722.99L1316.14 723.07L1316.53 723.15L1316.92 723.23L1317.32 723.31L1317.71 723.39L1318.10 723.47L1318.49 723.55L1318.89 723.63L1319.28 723.71L1319.67 723.79L1320.06 723.87L1320.46 723.95L1320.85 724.03L1321.24 724.10L1321.64 724.18L1322.03 724.26L1322.42 724.34L1322.81 724.42L1323.21 724.50L1323.60 724.58L1323.99 724.65L1324.39 724.73L1324.78 724.81L1325.17 724.89L1325.56 724.97L1325.96 725.04L1326.35 725.12L1326.74 725.20L1327.14 725.27L1327.53 725.35L1327.92 725.43L1328.31 725.51L1328.71 725.58L1329.10 725.66L1329.49 725.74L1329.88 725.81L1330.28 725.89L1330.67 725.96L1331.06 726.04L1331.46 726.12L1331.85 726.19L1332.24 726.27L1332.63 726.34L1333.03 726.42L1333.42 726.49L1333.81 726.57L1334.21 726.64L1334.60 726.72L1334.99 726.79L1335.38 726.87L1335.78 726.94L1336.17 727.02L1336.56 727.09L1336.96 727.17L1337.35 727.24L1337.74 727.32L1338.13 727.39L1338.53 727.46L1338.92 727.54L1339.31 727.61L1339.70 727.69L1340.10 727.76L1340.49 727.83L1340.88 727.91L1341.28 727.98L1341.67 728.05L1342.06 728.13L1342.45 728.20L1342.85 728.27L1343.24 728.34L1343.63 728.42L1344.03 728.49L1344.42 728.56L1344.81 728.63L1345.20 728.71L1345.60 728.78L1345.99 728.85L1346.38 728.92L1346.78 728.99L1347.17 729.06L1347.56 729.14L1347.95 729.21L1348.35 729.28L1348.74 729.35L1349.13 729.42L1349.52 729.49L1349.92 729.56L1350.31 729.63L1350.70 729.70L1351.10 729.77L1351.49 729.85L1351.88 729.92L1352.27 729.99L1352.67 730.06L1353.06 730.13L1353.45 730.20" stroke="#f6e625" stroke-width="4" stroke-dasharray="4 3.6" fill="none"/>
<path d="M890.14 44.20L890.53 47.72L890.92 51.22L891.32 54.68L891.71 58.11L892.10 61.51L892.50 64.88L892.89 68.22L893.28 71.53L893.67 74.81L894.07 78.07L894.46 81.29L894.85 84.49L895.24 87.66L895.64 90.81L896.03 93.93L896.42 97.02L896.82 100.09L897.21 103.13L897.60 106.14L897.99 109.13L898.39 112.10L898.78 115.04L899.17 117.95L899.57 120.85L899.96 123.72L900.35 126.56L900.74 129.39L901.14 132.19L901.53 134.97L901.92 137.72L902.32 140.46L902.71 143.17L903.10 145.86L903.49 148.53L903.89 151.18L904.28 153.81L904.67 156.42L905.06 159.01L905.46 161.58L905.85 164.13L906.24 166.66L906.64 169.17L907.03 171.66L907.42 174.13L907.81 176.59L908.21 179.02L908.60 181.44L908.99 183.84L909.39 186.22L909.78 188.59L910.17 190.94L910.56 193.27L910.96 195.58L911.35 197.87L911.74 200.15L912.14 202.42L912.53 204.66L912.92 206.90L913.31 209.11L913.71 211.31L914.10 213.49L914.49 215.66L914.88 217.82L915.28 219.95L915.67 222.08L916.06 224.18L916.46 226.28L916.85 228.36L917.24 230.42L917.63 232.47L918.03 234.51L918.42 236.53L918.81 238.54L919.21 240.54L919.60 242.52L919.99 244.49L920.38 246.44L920.78 248.39L921.17 250.32L921.56 252.23L921.96 254.14L922.35 256.03L922.74 257.91L923.13 259.77L923.53 261.63L923.92 263.47L924.31 265.30L924.70 267.12L925.10 268.93L925.49 270.72L925.88 272.51L926.28 274.28L926.67 276.04L927.06 277.79L927.45 279.53L927.85 281.26L928.24 282.98L928.63 284.68L929.03 286.38L929.42 288.06L929.81 289.74L930.20 291.40L930.60 293.06L930.99 294.70L931.38 296.33L931.78 297.96L932.17 299.57L932.56 301.18L932.95 302.77L933.35 304.36L933.74 305.93L934.13 307.50L934.52 309.06L934.92 310.60L935.31 312.14L935.70 313.67L936.10 315.19L936.49 316.70L936.88 318.20L937.27 319.70L937.67 321.18L938.06 322.66L938.45 324.12L938.85 325.58L939.24 327.03L939.63 328.48L940.02 329.91L940.42 331.34L940.81 332.75L941.20 334.16L941.60 335.56L941.99 336.96L942.38 338.34L942.77 339.72L943.17 341.09L943.56 342.45L943.95 343.81L944.34 345.16L944.74 346.50L945.13 347.83L945.52 349.15L945.92 350.47L946.31 351.78L946.70 353.09L947.09 354.38L947.49 355.67L947.88 356.95L948.27 358.23L948.67 359.50L949.06 360.76L949.45 362.02L949.84 363.26L950.24 364.50L950.63 365.74L951.02 366.97L951.42 368.19L951.81 369.41L952.20 370.61L952.59 371.82L952.99 373.01L953.38 374.20L953.77 375.39L954.16 376.56L954.56 377.74L954.95 378.90L955.34 380.06L955.74 381.21L956.13 382.36L956.52 383.50L956.91 384.64L957.31 385.77L957.70 386.89L958.09 388.01L958.49 389.13L958.88 390.23L959.27 391.33L959.66 392.43L960.06 393.52L960.45 394.61L960.84 395.69L961.24 396.76L961.63 397.83L962.02 398.89L962.41 399.95L962.81 401.01L963.20 402.06L963.59 403.10L963.98 404.14L964.38 405.17L964.77 406.20L965.16 407.22L965.56 408.24L965.95 409.25L966.34 410.26L966.73 411.26L967.13 412.26L967.52 413.26L967.91 414.25L968.31 415.23L968.70 416.21L969.09 417.18L969.48 418.16L969.88 419.12L970.27 420.08L970.66 421.04L971.06 421.99L971.45 422.94L971.84 423.88L972.23 424.82L972.63 425.76L973.02 426.69L973.41 427.61L973.80 428.54L974.20 429.45L974.59 430.37L974.98 431.28L975.38 432.18L975.77 433.08L976.16 433.98L976.55 434.87L976.95 435.76L977.34 436.65L977.73 437.53L978.13 438.40L978.52 439.28L978.91 440.15L979.30 441.01L979.70 441.87L980.09 442.73L980.48 443.58L980.88 444.43L981.27 445.28L981.66 446.12L982.05 446.96L982.45 447.80L982.84 448.63L983.23 449.46L983.62 450.28L984.02 451.10L984.41 451.92L984.80 452.73L985.20 453.54L985.59 454.35L985.98 455.15L986.37 455.95L986.77 456.75L987.16 457.54L987.55 458.33L987.95 459.12L988.34 459.90L988.73 460.68L989.12 461.45L989.52 462.23L989.91 463.00L990.30 463.76L990.70 464.53L991.09 465.29L991.48 466.04L991.87 466.80L992.27 467.55L992.66 468.29L993.05 469.04L993.44 469.78L993.84 470.52L994.23 471.25L994.62 471.99L995.02 472.71L995.41 473.44L995.80 474.16L996.19 474.88L996.59 475.60L996.98 476.32L997.37 477.03L997.77 477.74L998.16 478.44L998.55 479.15L998.94 479.85L999.34 480.54L999.73 481.24L1000.12 481.93L1000.52 482.62L1000.91 483.30L1001.30 483.99L1001.69 484.67L1002.09 485.35L1002.48 486.02L1002.87 486.70L1003.26 487.37L1003.66 488.03L1004.05 488.70L1004.44 489.36L1004.84 490.02L1005.23 490.68L1005.62 491.33L1006.01 491.99L1006.41 492.64L1006.80 493.28L1007.19 493.93L1007.59 494.57L1007.98 495.21L1008.37 495.85L1008.76 496.48L1009.16 497.11L1009.55 497.74L1009.94 498.37L1010.34 499.00L1010.73 499.62L1011.12 500.24L1011.51 500.86L1011.91 501.47L1012.30 502.09L1012.69 502.70L1013.08 503.31L1013.48 503.91L1013.87 504.52L1014.26 505.12L1014.66 505.72L1015.05 506.32L1015.44 506.91L1015.83 507.51L1016.23 508.10L1016.62 508.69L1017.01 509.27L1017.41 509.86L1017.80 510.44L1018.19 511.02L1018.58 511.60L1018.98 512.18L1019.37 512.75L1019.76 513.32L1020.16 513.89L1020.55 514.46L1020.94 515.03L1021.33 515.59L1021.73 516.15L1022.12 516.71L1022.51 517.27L1022.90 517.82L1023.30 518.38L1023.69 518.93L1024.08 519.48L1024.48 520.03L1024.87 520.57L1025.26 521.12L1025.65 521.66L1026.05 522.20L1026.44 522.74L1026.83 523.27L1027.23 523.81L1027.62 524.34L1028.01 524.87L1028.40 525.40L1028.80 525.93L1029.19 526.45L1029.58 526.98L1029.98 527.50L1030.37 528.02L1030.76 528.54L1031.15 529.05L1031.55 529.57L1031.94 530.08L1032.33 530.59L1032.72 531.10L1033.12 531.61L1033.51 532.11L1033.90 532.62L1034.30 533.12L1034.69 533.62L1035.08 534.12L1035.47 534.61L1035.87 535.11L1036.26 535.60L1036.65 536.10L1037.05 536.59L1037.44 537.08L1037.83 537.56L1038.22 538.05L1038.62 538.53L1039.01 539.01L1039.40 539.50L1039.80 539.97L1040.19 540.45L1040.58 540.93L1040.97 541.40L1041.37 541.88L1041.76 542.35L1042.15 542.82L1042.54 543.28L1042.94 543.75L1043.33 544.22L1043.72 544.68L1044.12 545.14L1044.51 545.60L1044.90 546.06L1045.29 546.52L1045.69 546.98L1046.08 547.43L1046.47 547.88L1046.87 548.34L1047.26 548.79L1047.65 549.23L1048.04 549.68L1048.44 550.13L1048.83 550.57L1049.22 551.02L1049.62 551.46L1050.01 551.90L1050.40 552.34L1050.79 552.77L1051.19 553.21L1051.58 553.64L1051.97 554.08L1052.36 554.51L1052.76 554.94L1053.15 555.37L1053.54 555.80L1053.94 556.22L1054.33 556.65L1054.72 557.07L1055.11 557.50L1055.51 557.92L1055.90 558.34L1056.29 558.76L1056.69 559.17L1057.08 559.59L1057.47 560.00L1057.86 560.42L1058.26 560.83L1058.65 561.24L1059.04 561.65L1059.44 562.06L1059.83 562.47L1060.22 562.87L1060.61 563.28L1061.01 563.68L1061.40 564.08L1061.79 564.48L1062.18 564.88L1062.58 565.28L1062.97 565.68L1063.36 566.08L1063.76 566.47L1064.15 566.87L1064.54 567.26L1064.93 567.65L1065.33 568.04L1065.72 568.43L1066.11 568.82L1066.51 569.20L1066.90 569.59L1067.29 569.97L1067.68 570.36L1068.08 570.74L1068.47 571.12L1068.86 571.50L1069.26 571.88L1069.65 572.26L1070.04 572.63L1070.43 573.01L1070.83 573.38L1071.22 573.76L1071.61 574.13L1072.00 574.50L1072.40 574.87L1072.79 575.24L1073.18 575.61L1073.58 575.97L1073.97 576.34L1074.36 576.71L1074.75 577.07L1075.15 577.43L1075.54 577.79L1075.93 578.15L1076.33 578.51L1076.72 578.87L1077.11 579.23L1077.50 579.59L1077.90 579.94L1078.29 580.30L1078.68 580.65L1079.08 581.00L1079.47 581.35L1079.86 581.70L1080.25 582.05L1080.65 582.40L1081.04 582.75L1081.43 583.09L1081.82 583.44L1082.22 583.78L1082.61 584.13L1083.00 584.47L1083.40 584.81L1083.79 585.15L1084.18 585.49L1084.57 585.83L1084.97 586.17L1085.36 586.51L1085.75 586.84L1086.15 587.18L1086.54 587.51L1086.93 587.84L1087.32 588.18L1087.72 588.51L1088.11 588.84L1088.50 589.17L1088.90 589.50L1089.29 589.82L1089.68 590.15L1090.07 590.48L1090.47 590.80L1090.86 591.12L1091.25 591.45L1091.64 591.77L1092.04 592.09L1092.43 592.41L1092.82 592.73L1093.22 593.05L1093.61 593.37L1094.00 593.69L1094.39 594.00L1094.79 594.32L1095.18 594.63L1095.57 594.95L1095.97 595.26L1096.36 595.57L1096.75 595.88L1097.14 596.19L1097.54 596.50L1097.93 596.81L1098.32 597.12L1098.72 597.42L1099.11 597.73L1099.50 598.04L1099.89 598.34L1100.29 598.65L1100.68 598.95L1101.07 599.25L1101.46 599.55L1101.86 599.85L1102.25 600.15L1102.64 600.45L1103.04 600.75L1103.43 601.05L1103.82 601.34L1104.21 601.64L1104.61 601.93L1105.00 602.23L1105.39 602.52L1105.79 602.82L1106.18 603.11L1106.57 603.40L1106.96 603.69L1107.36 603.98L1107.75 604.27L1108.14 604.56L1108.54 604.84L1108.93 605.13L1109.32 605.42L1109.71 605.70L1110.11 605.99L1110.50 606.27L1110.89 606.56L1111.28 606.84L1111.68 607.12L1112.07 607.40L1112.46 607.68L1112.86 607.96L1113.25 608.24L1113.64 608.52L1114.03 608.80L1114.43 609.07L1114.82 609.35L1115.21 609.62L1115.61 609.90L1116.00 610.17L1116.39 610.45L1116.78 610.72L1117.18 610.99L1117.57 611.26L1117.96 611.53L1118.36 611.80L1118.75 612.07L1119.14 612.34L1119.53 612.61L1119.93 612.88L1120.32 613.14L1120.71 613.41L1121.10 613.67L1121.50 613.94L1121.89 614.20L1122.28 614.47L1122.68 614.73L1123.07 614.99L1123.46 615.25L1123.85 615.51L1124.25 615.77L1124.64 616.03L1125.03 616.29L1125.43 616.55L1125.82 616.81L1126.21 617.06L1126.60 617.32L1127.00 617.58L1127.39 617.83L1127.78 618.09L1128.18 618.34L1128.57 618.59L1128.96 618.85L1129.35 619.10L1129.75 619.35L1130.14 619.60L1130.53 619.85L1130.92 620.10L1131.32 620.35L1131.71 620.60L1132.10 620.85L1132.50 621.09L1132.89 621.34L1133.28 621.59L1133.67 621.83L1134.07 622.08L1134.46 622.32L1134.85 622.56L1135.25 622.81L1135.64 623.05L1136.03 623.29L1136.42 623.53L1136.82 623.77L1137.21 624.01L1137.60 624.25L1138.00 624.49L1138.39 624.73L1138.78 624.97L1139.17 625.21L1139.57 625.44L1139.96 625.68L1140.35 625.92L1140.74 626.15L1141.14 626.39L1141.53 626.62L1141.92 626.85L1142.32 627.09L1142.71 627.32L1143.10 627.55L1143.49 627.78L1143.89 628.02L1144.28 628.25L1144.67 628.48L1145.07 628.71L1145.46 628.93L1145.85 629.16L1146.24 629.39L1146.64 629.62L1147.03 629.84L1147.42 630.07L1147.82 630.30L1148.21 630.52L1148.60 630.75L1148.99 630.97L1149.39 631.19L1149.78 631.42L1150.17 631.64L1150.56 631.86L1150.96 632.08L1151.35 632.31L1151.74 632.53L1152.14 632.75L1152.53 632.97L1152.92 633.19L1153.31 633.40L1153.71 633.62L1154.10 633.84L1154.49 634.06L1154.89 634.27L1155.28 634.49L1155.67 634.71L1156.06 634.92L1156.46 635.14L1156.85 635.35L1157.24 635.56L1157.64 635.78L1158.03 635.99L1158.42 636.20L1158.81 636.42L1159.21 636.63L1159.60 636.84L1159.99 637.05L1160.38 637.26L1160.78 637.47L1161.17 637.68L1161.56 637.89L1161.96 638.09L1162.35 638.30L1162.74 638.51L1163.13 638.72L1163.53 638.92L1163.92 639.13L1164.31 639.34L1164.71 639.54L1165.10 639.75L1165.49 639.95L1165.88 640.15L1166.28 640.36L1166.67 640.56L1167.06 640.76L1167.46 640.96L1167.85 641.17L1168.24 641.37L1168.63 641.57L1169.03 641.77L1169.42 641.97L1169.81 642.17L1170.20 642.37L1170.60 642.57L1170.99 642.76L1171.38 642.96L1171.78 643.16L1172.17 643.36L1172.56 643.55L1172.95 643.75L1173.35 643.94L1173.74 644.14L1174.13 644.33L1174.53 644.53L1174.92 644.72L1175.31 644.92L1175.70 645.11L1176.10 645.30L1176.49 645.49L1176.88 645.69L1177.28 645.88L1177.67 646.07L1178.06 646.26L1178.45 646.45L1178.85 646.64L1179.24 646.83L1179.63 647.02L1180.02 647.21L1180.42 647.40L1180.81 647.58L1181.20 647.77L1181.60 647.96L1181.99 648.15L1182.38 648.33L1182.77 648.52L1183.17 648.70L1183.56 648.89L1183.95 649.07L1184.35 649.26L1184.74 649.44L1185.13 649.63L1185.52 649.81L1185.92 649.99L1186.31 650.18L1186.70 650.36L1187.10 650.54L1187.49 650.72L1187.88 650.90L1188.27 651.08L1188.67 651.26L1189.06 651.44L1189.45 651.62L1189.84 651.80L1190.24 651.98L1190.63 652.16L1191.02 652.34L1191.42 652.52L1191.81 652.69L1192.20 652.87L1192.59 653.05L1192.99 653.23L1193.38 653.40L1193.77 653.58L1194.17 653.75L1194.56 653.93L1194.95 654.10L1195.34 654.28L1195.74 654.45L1196.13 654.62L1196.52 654.80L1196.92 654.97L1197.31 655.14L1197.70 655.32L1198.09 655.49L1198.49 655.66L1198.88 655.83L1199.27 656.00L1199.66 656.17L1200.06 656.34L1200.45 656.51L1200.84 656.68L1201.24 656.85L1201.63 657.02L1202.02 657.19L1202.41 657.36L1202.81 657.52L1203.20 657.69L1203.59 657.86L1203.99 658.03L1204.38 658.19L1204.77 658.36L1205.16 658.52L1205.56 658.69L1205.95 658.86L1206.34 659.02L1206.74 659.18L1207.13 659.35L1207.52 659.51L1207.91 659.68L1208.31 659.84L1208.70 660.00L1209.09 660.17L1209.48 660.33L1209.88 660.49L1210.27 660.65L1210.66 660.81L1211.06 660.97L1211.45 661.14L1211.84 661.30L1212.23 661.46L1212.63 661.62L1213.02 661.78L1213.41 661.94L1213.81 662.09L1214.20 662.25L1214.59 662.41L1214.98 662.57L1215.38 662.73L1215.77 662.88L1216.16 663.04L1216.56 663.20L1216.95 663.36L1217.34 663.51L1217.73 663.67L1218.13 663.82L1218.52 663.98L1218.91 664.13L1219.30 664.29L1219.70 664.44L1220.09 664.60L1220.48 664.75L1220.88 664.91L1221.27 665.06L1221.66 665.21L1222.05 665.36L1222.45 665.52L1222.84 665.67L1223.23 665.82L1223.63 665.97L1224.02 666.12L1224.41 666.28L1224.80 666.43L1225.20 666.58L1225.59 666.73L1225.98 666.88L1226.38 667.03L1226.77 667.18L1227.16 667.33L1227.55 667.47L1227.95 667.62L1228.34 667.77L1228.73 667.92L1229.12 668.07L1229.52 668.21L1229.91 668.36L1230.30 668.51L1230.70 668.66L1231.09 668.80L1231.48 668.95L1231.87 669.09L1232.27 669.24L1232.66 669.38L1233.05 669.53L1233.45 669.67L1233.84 669.82L1234.23 669.96L1234.62 670.11L1235.02 670.25L1235.41 670.39L1235.80 670.54L1236.20 670.68L1236.59 670.82L1236.98 670.97L1237.37 671.11L1237.77 671.25L1238.16 671.39L1238.55 671.53L1238.94 671.67L1239.34 671.82L1239.73 671.96L1240.12 672.10L1240.52 672.24L1240.91 672.38L1241.30 672.52L1241.69 672.66L1242.09 672.80L1242.48 672.93L1242.87 673.07L1243.27 673.21L1243.66 673.35L1244.05 673.49L1244.44 673.62L1244.84 673.76L1245.23 673.90L1245.62 674.04L1246.02 674.17L1246.41 674.31L1246.80 674.45L1247.19 674.58L1247.59 674.72L1247.98 674.85L1248.37 674.99L1248.76 675.12L1249.16 675.26L1249.55 675.39L1249.94 675.53L1250.34 675.66L1250.73 675.80L1251.12 675.93L1251.51 676.06L1251.91 676.20L1252.30 676.33L1252.69 676.46L1253.09 676.59L1253.48 676.73L1253.87 676.86L1254.26 676.99L1254.66 677.12L1255.05 677.25L1255.44 677.38L1255.84 677.51L1256.23 677.64L1256.62 677.77L1257.01 677.91L1257.41 678.04L1257.80 678.16L1258.19 678.29L1258.58 678.42L1258.98 678.55L1259.37 678.68L1259.76 678.81L1260.16 678.94L1260.55 679.07L1260.94 679.19L1261.33 679.32L1261.73 679.45L1262.12 679.58L1262.51 679.70L1262.91 679.83L1263.30 679.96L1263.69 680.08L1264.08 680.21L1264.48 680.34L1264.87 680.46L1265.26 680.59L1265.66 680.71L1266.05 680.84L1266.44 680.96L1266.83 681.09L1267.23 681.21L1267.62 681.34L1268.01 681.46L1268.40 681.58L1268.80 681.71L1269.19 681.83L1269.58 681.95L1269.98 682.08L1270.37 682.20L1270.76 682.32L1271.15 682.45L1271.55 682.57L1271.94 682.69L1272.33 682.81L1272.73 682.93L1273.12 683.05L1273.51 683.18L1273.90 683.30L1274.30 683.42L1274.69 683.54L1275.08 683.66L1275.48 683.78L1275.87 683.90L1276.26 684.02L1276.65 684.14L1277.05 684.26L1277.44 684.38L1277.83 684.50L1278.22 684.61L1278.62 684.73L1279.01 684.85L1279.40 684.97L1279.80 685.09L1280.19 685.21L1280.58 685.32L1280.97 685.44L1281.37 685.56L1281.76 685.67L1282.15 685.79L1282.55 685.91L1282.94 686.02L1283.33 686.14L1283.72 686.26L1284.12 686.37L1284.51 686.49L1284.90 686.60L1285.30 686.72L1285.69 686.83L1286.08 686.95L1286.47 687.06L1286.87 687.18L1287.26 687.29L1287.65 687.41L1288.04 687.52L1288.44 687.64L1288.83 687.75L1289.22 687.86L1289.62 687.98L1290.01 688.09L1290.40 688.20L1290.79 688.31L1291.19 688.43L1291.58 688.54L1291.97 688.65L1292.37 688.76L1292.76 688.88L1293.15 688.99L1293.54 689.10L1293.94 689.21L1294.33 689.32L1294.72 689.43L1295.12 689.54L1295.51 689.65L1295.90 689.76L1296.29 689.87L1296.69 689.98L1297.08 690.09L1297.47 690.20L1297.86 690.31L1298.26 690.42L1298.65 690.53L1299.04 690.64L1299.44 690.75L1299.83 690.86L1300.22 690.97L1300.61 691.08L1301.01 691.18L1301.40 691.29L1301.79 691.40L1302.19 691.51L1302.58 691.61L1302.97 691.72L1303.36 691.83L1303.76 691.94L1304.15 692.04L1304.54 692.15L1304.94 692.26L1305.33 692.36L1305.72 692.47L1306.11 692.57L1306.51 692.68L1306.90 692.79L1307.29 692.89L1307.68 693.00L1308.08 693.10L1308.47 693.21L1308.86 693.31L1309.26 693.42L1309.65 693.52L1310.04 693.63L1310.43 693.73L1310.83 693.83L1311.22 693.94L1311.61 694.04L1312.01 694.14L1312.40 694.25L1312.79 694.35L1313.18 694.45L1313.58 694.56L1313.97 694.66L1314.36 694.76L1314.76 694.87L1315.15 694.97L1315.54 695.07L1315.93 695.17L1316.33 695.27L1316.72 695.37L1317.11 695.48L1317.50 695.58L1317.90 695.68L1318.29 695.78L1318.68 695.88L1319.08 695.98L1319.47 696.08L1319.86 696.18L1320.25 696.28L1320.65 696.38L1321.04 696.48L1321.43 696.58L1321.83 696.68L1322.22 696.78L1322.61 696.88L1323.00 696.98L1323.40 697.08L1323.79 697.18L1324.18 697.28L1324.58 697.38L1324.97 697.47L1325.36 697.57L1325.75 697.67L1326.15 697.77L1326.54 697.87L1326.93 697.96L1327.32 698.06L1327.72 698.16L1328.11 698.26L1328.50 698.35L1328.90 698.45L1329.29 698.55L1329.68 698.64L1330.07 698.74L1330.47 698.84L1330.86 698.93L1331.25 699.03L1331.65 699.13L1332.04 699.22L1332.43 699.32L1332.82 699.41L1333.22 699.51L1333.61 699.60L1334.00 699.70L1334.40 699.79L1334.79 699.89L1335.18 699.98L1335.57 700.08L1335.97 700.17L1336.36 700.27L1336.75 700.36L1337.14 700.45L1337.54 700.55L1337.93 700.64L1338.32 700.74L1338.72 700.83L1339.11 700.92L1339.50 701.02L1339.89 701.11L1340.29 701.20L1340.68 701.29L1341.07 701.39L1341.47 701.48L1341.86 701.57L1342.25 701.66L1342.64 701.76L1343.04 701.85L1343.43 701.94L1343.82 702.03L1344.22 702.12L1344.61 702.22L1345.00 702.31L1345.39 702.40L1345.79 702.49L1346.18 702.58L1346.57 702.67L1346.96 702.76L1347.36 702.85L1347.75 702.94L1348.14 703.03L1348.54 703.12L1348.93 703.21L1349.32 703.30L1349.71 703.39L1350.11 703.48L1350.50 703.57L1350.89 703.66L1351.29 703.75L1351.68 703.84L1352.07 703.93L1352.46 704.02L1352.86 704.11L1353.25 704.19" stroke="#5cc762" stroke-width="4" stroke-dasharray="4 3.6" fill="none"/>
<path d="M905.15 44.20L905.55 47.21L905.94 50.19L906.33 53.15L906.73 56.09L907.12 59.01L907.51 61.90L907.90 64.78L908.30 67.63L908.69 70.46L909.08 73.27L909.48 76.06L909.87 78.82L910.26 81.57L910.65 84.30L911.05 87.01L911.44 89.70L911.83 92.36L912.23 95.01L912.62 97.64L913.01 100.26L913.40 102.85L913.80 105.42L914.19 107.98L914.58 110.52L914.97 113.04L915.37 115.54L915.76 118.03L916.15 120.50L916.55 122.95L916.94 125.38L917.33 127.80L917.72 130.20L918.12 132.58L918.51 134.95L918.90 137.31L919.30 139.64L919.69 141.96L920.08 144.27L920.47 146.56L920.87 148.83L921.26 151.09L921.65 153.33L922.05 155.56L922.44 157.78L922.83 159.98L923.22 162.16L923.62 164.34L924.01 166.49L924.40 168.64L924.79 170.77L925.19 172.88L925.58 174.98L925.97 177.07L926.37 179.15L926.76 181.21L927.15 183.26L927.54 185.30L927.94 187.32L928.33 189.33L928.72 191.33L929.12 193.31L929.51 195.29L929.90 197.25L930.29 199.20L930.69 201.13L931.08 203.06L931.47 204.97L931.87 206.87L932.26 208.77L932.65 210.64L933.04 212.51L933.44 214.37L933.83 216.21L934.22 218.05L934.61 219.87L935.01 221.68L935.40 223.48L935.79 225.27L936.19 227.05L936.58 228.82L936.97 230.58L937.36 232.33L937.76 234.07L938.15 235.80L938.54 237.52L938.94 239.22L939.33 240.92L939.72 242.61L940.11 244.29L940.51 245.96L940.90 247.62L941.29 249.27L941.69 250.91L942.08 252.54L942.47 254.17L942.86 255.78L943.26 257.39L943.65 258.98L944.04 260.57L944.43 262.15L944.83 263.72L945.22 265.28L945.61 266.83L946.01 268.37L946.40 269.91L946.79 271.43L947.18 272.95L947.58 274.46L947.97 275.96L948.36 277.46L948.76 278.94L949.15 280.42L949.54 281.89L949.93 283.35L950.33 284.80L950.72 286.25L951.11 287.69L951.51 289.12L951.90 290.54L952.29 291.96L952.68 293.37L953.08 294.77L953.47 296.16L953.86 297.55L954.25 298.93L954.65 300.30L955.04 301.67L955.43 303.02L955.83 304.38L956.22 305.72L956.61 307.06L957.00 308.39L957.40 309.71L957.79 311.03L958.18 312.34L958.58 313.64L958.97 314.94L959.36 316.23L959.75 317.51L960.15 318.79L960.54 320.06L960.93 321.33L961.33 322.58L961.72 323.84L962.11 325.08L962.50 326.32L962.90 327.56L963.29 328.79L963.68 330.01L964.07 331.22L964.47 332.43L964.86 333.64L965.25 334.84L965.65 336.03L966.04 337.21L966.43 338.40L966.82 339.57L967.22 340.74L967.61 341.90L968.00 343.06L968.40 344.22L968.79 345.36L969.18 346.51L969.57 347.64L969.97 348.77L970.36 349.90L970.75 351.02L971.15 352.14L971.54 353.25L971.93 354.35L972.32 355.45L972.72 356.55L973.11 357.64L973.50 358.72L973.89 359.80L974.29 360.88L974.68 361.95L975.07 363.01L975.47 364.07L975.86 365.13L976.25 366.18L976.64 367.23L977.04 368.27L977.43 369.30L977.82 370.33L978.22 371.36L978.61 372.38L979.00 373.40L979.39 374.42L979.79 375.43L980.18 376.43L980.57 377.43L980.97 378.43L981.36 379.42L981.75 380.40L982.14 381.39L982.54 382.36L982.93 383.34L983.32 384.31L983.71 385.27L984.11 386.24L984.50 387.19L984.89 388.15L985.29 389.09L985.68 390.04L986.07 390.98L986.46 391.92L986.86 392.85L987.25 393.78L987.64 394.70L988.04 395.62L988.43 396.54L988.82 397.45L989.21 398.36L989.61 399.27L990.00 400.17L990.39 401.07L990.79 401.96L991.18 402.85L991.57 403.74L991.96 404.62L992.36 405.50L992.75 406.38L993.14 407.25L993.53 408.12L993.93 408.98L994.32 409.84L994.71 410.70L995.11 411.56L995.50 412.41L995.89 413.25L996.28 414.10L996.68 414.94L997.07 415.77L997.46 416.61L997.86 417.44L998.25 418.27L998.64 419.09L999.03 419.91L999.43 420.73L999.82 421.54L1000.21 422.35L1000.61 423.16L1001.00 423.96L1001.39 424.76L1001.78 425.56L1002.18 426.36L1002.57 427.15L1002.96 427.94L1003.35 428.72L1003.75 429.50L1004.14 430.28L1004.53 431.06L1004.93 431.83L1005.32 432.60L1005.71 433.37L1006.10 434.13L1006.50 434.89L1006.89 435.65L1007.28 436.41L1007.68 437.16L1008.07 437.91L1008.46 438.65L1008.85 439.40L1009.25 440.14L1009.64 440.88L1010.03 441.61L1010.43 442.35L1010.82 443.08L1011.21 443.80L1011.60 444.53L1012.00 445.25L1012.39 445.97L1012.78 446.68L1013.17 447.40L1013.57 448.11L1013.96 448.82L1014.35 449.52L1014.75 450.22L1015.14 450.92L1015.53 451.62L1015.92 452.32L1016.32 453.01L1016.71 453.70L1017.10 454.39L1017.50 455.07L1017.89 455.75L1018.28 456.43L1018.67 457.11L1019.07 457.79L1019.46 458.46L1019.85 459.13L1020.25 459.80L1020.64 460.46L1021.03 461.13L1021.42 461.79L1021.82 462.44L1022.21 463.10L1022.60 463.75L1022.99 464.40L1023.39 465.05L1023.78 465.70L1024.17 466.34L1024.57 466.99L1024.96 467.63L1025.35 468.26L1025.74 468.90L1026.14 469.53L1026.53 470.16L1026.92 470.79L1027.32 471.42L1027.71 472.04L1028.10 472.66L1028.49 473.28L1028.89 473.90L1029.28 474.51L1029.67 475.13L1030.07 475.74L1030.46 476.35L1030.85 476.95L1031.24 477.56L1031.64 478.16L1032.03 478.76L1032.42 479.36L1032.81 479.96L1033.21 480.55L1033.60 481.15L1033.99 481.74L1034.39 482.32L1034.78 482.91L1035.17 483.50L1035.56 484.08L1035.96 484.66L1036.35 485.24L1036.74 485.81L1037.14 486.39L1037.53 486.96L1037.92 487.53L1038.31 488.10L1038.71 488.67L1039.10 489.23L1039.49 489.80L1039.89 490.36L1040.28 490.92L1040.67 491.47L1041.06 492.03L1041.46 492.58L1041.85 493.14L1042.24 493.69L1042.63 494.24L1043.03 494.78L1043.42 495.33L1043.81 495.87L1044.21 496.41L1044.60 496.95L1044.99 497.49L1045.38 498.03L1045.78 498.56L1046.17 499.09L1046.56 499.62L1046.96 500.15L1047.35 500.68L1047.74 501.21L1048.13 501.73L1048.53 502.25L1048.92 502.78L1049.31 503.29L1049.71 503.81L1050.10 504.33L1050.49 504.84L1050.88 505.35L1051.28 505.87L1051.67 506.38L1052.06 506.88L1052.45 507.39L1052.85 507.89L1053.24 508.40L1053.63 508.90L1054.03 509.40L1054.42 509.90L1054.81 510.39L1055.20 510.89L1055.60 511.38L1055.99 511.87L1056.38 512.37L1056.78 512.85L1057.17 513.34L1057.56 513.83L1057.95 514.31L1058.35 514.80L1058.74 515.28L1059.13 515.76L1059.53 516.24L1059.92 516.71L1060.31 517.19L1060.70 517.66L1061.10 518.14L1061.49 518.61L1061.88 519.08L1062.27 519.55L1062.67 520.01L1063.06 520.48L1063.45 520.94L1063.85 521.41L1064.24 521.87L1064.63 522.33L1065.02 522.79L1065.42 523.24L1065.81 523.70L1066.20 524.15L1066.60 524.61L1066.99 525.06L1067.38 525.51L1067.77 525.96L1068.17 526.41L1068.56 526.85L1068.95 527.30L1069.35 527.74L1069.74 528.19L1070.13 528.63L1070.52 529.07L1070.92 529.51L1071.31 529.94L1071.70 530.38L1072.09 530.81L1072.49 531.25L1072.88 531.68L1073.27 532.11L1073.67 532.54L1074.06 532.97L1074.45 533.40L1074.84 533.82L1075.24 534.25L1075.63 534.67L1076.02 535.09L1076.42 535.52L1076.81 535.94L1077.20 536.36L1077.59 536.77L1077.99 537.19L1078.38 537.60L1078.77 538.02L1079.17 538.43L1079.56 538.84L1079.95 539.25L1080.34 539.66L1080.74 540.07L1081.13 540.48L1081.52 540.88L1081.91 541.29L1082.31 541.69L1082.70 542.10L1083.09 542.50L1083.49 542.90L1083.88 543.30L1084.27 543.69L1084.66 544.09L1085.06 544.49L1085.45 544.88L1085.84 545.28L1086.24 545.67L1086.63 546.06L1087.02 546.45L1087.41 546.84L1087.81 547.23L1088.20 547.61L1088.59 548.00L1088.99 548.39L1089.38 548.77L1089.77 549.15L1090.16 549.53L1090.56 549.92L1090.95 550.29L1091.34 550.67L1091.73 551.05L1092.13 551.43L1092.52 551.80L1092.91 552.18L1093.31 552.55L1093.70 552.92L1094.09 553.30L1094.48 553.67L1094.88 554.04L1095.27 554.40L1095.66 554.77L1096.06 555.14L1096.45 555.50L1096.84 555.87L1097.23 556.23L1097.63 556.60L1098.02 556.96L1098.41 557.32L1098.81 557.68L1099.20 558.04L1099.59 558.40L1099.98 558.75L1100.38 559.11L1100.77 559.46L1101.16 559.82L1101.55 560.17L1101.95 560.52L1102.34 560.87L1102.73 561.22L1103.13 561.57L1103.52 561.92L1103.91 562.27L1104.30 562.62L1104.70 562.96L1105.09 563.31L1105.48 563.65L1105.88 564.00L1106.27 564.34L1106.66 564.68L1107.05 565.02L1107.45 565.36L1107.84 565.70L1108.23 566.04L1108.63 566.37L1109.02 566.71L1109.41 567.05L1109.80 567.38L1110.20 567.71L1110.59 568.05L1110.98 568.38L1111.37 568.71L1111.77 569.04L1112.16 569.37L1112.55 569.70L1112.95 570.03L1113.34 570.35L1113.73 570.68L1114.12 571.00L1114.52 571.33L1114.91 571.65L1115.30 571.97L1115.70 572.30L1116.09 572.62L1116.48 572.94L1116.87 573.26L1117.27 573.58L1117.66 573.89L1118.05 574.21L1118.45 574.53L1118.84 574.84L1119.23 575.16L1119.62 575.47L1120.02 575.79L1120.41 576.10L1120.80 576.41L1121.19 576.72L1121.59 577.03L1121.98 577.34L1122.37 577.65L1122.77 577.96L1123.16 578.26L1123.55 578.57L1123.94 578.88L1124.34 579.18L1124.73 579.48L1125.12 579.79L1125.52 580.09L1125.91 580.39L1126.30 580.69L1126.69 580.99L1127.09 581.29L1127.48 581.59L1127.87 581.89L1128.27 582.19L1128.66 582.49L1129.05 582.78L1129.44 583.08L1129.84 583.37L1130.23 583.67L1130.62 583.96L1131.01 584.25L1131.41 584.54L1131.80 584.83L1132.19 585.13L1132.59 585.41L1132.98 585.70L1133.37 585.99L1133.76 586.28L1134.16 586.57L1134.55 586.85L1134.94 587.14L1135.34 587.42L1135.73 587.71L1136.12 587.99L1136.51 588.28L1136.91 588.56L1137.30 588.84L1137.69 589.12L1138.09 589.40L1138.48 589.68L1138.87 589.96L1139.26 590.24L1139.66 590.52L1140.05 590.79L1140.44 591.07L1140.83 591.34L1141.23 591.62L1141.62 591.89L1142.01 592.17L1142.41 592.44L1142.80 592.71L1143.19 592.99L1143.58 593.26L1143.98 593.53L1144.37 593.80L1144.76 594.07L1145.16 594.34L1145.55 594.61L1145.94 594.87L1146.33 595.14L1146.73 595.41L1147.12 595.67L1147.51 595.94L1147.91 596.20L1148.30 596.47L1148.69 596.73L1149.08 596.99L1149.48 597.25L1149.87 597.52L1150.26 597.78L1150.65 598.04L1151.05 598.30L1151.44 598.56L1151.83 598.81L1152.23 599.07L1152.62 599.33L1153.01 599.59L1153.40 599.84L1153.80 600.10L1154.19 600.35L1154.58 600.61L1154.98 600.86L1155.37 601.12L1155.76 601.37L1156.15 601.62L1156.55 601.87L1156.94 602.13L1157.33 602.38L1157.73 602.63L1158.12 602.88L1158.51 603.12L1158.90 603.37L1159.30 603.62L1159.69 603.87L1160.08 604.12L1160.47 604.36L1160.87 604.61L1161.26 604.85L1161.65 605.10L1162.05 605.34L1162.44 605.59L1162.83 605.83L1163.22 606.07L1163.62 606.31L1164.01 606.55L1164.40 606.80L1164.80 607.04L1165.19 607.28L1165.58 607.52L1165.97 607.75L1166.37 607.99L1166.76 608.23L1167.15 608.47L1167.55 608.70L1167.94 608.94L1168.33 609.18L1168.72 609.41L1169.12 609.65L1169.51 609.88L1169.90 610.11L1170.29 610.35L1170.69 610.58L1171.08 610.81L1171.47 611.04L1171.87 611.28L1172.26 611.51L1172.65 611.74L1173.04 611.97L1173.44 612.20L1173.83 612.43L1174.22 612.65L1174.62 612.88L1175.01 613.11L1175.40 613.34L1175.79 613.56L1176.19 613.79L1176.58 614.01L1176.97 614.24L1177.37 614.46L1177.76 614.69L1178.15 614.91L1178.54 615.13L1178.94 615.36L1179.33 615.58L1179.72 615.80L1180.11 616.02L1180.51 616.24L1180.90 616.46L1181.29 616.68L1181.69 616.90L1182.08 617.12L1182.47 617.34L1182.86 617.56L1183.26 617.78L1183.65 617.99L1184.04 618.21L1184.44 618.43L1184.83 618.64L1185.22 618.86L1185.61 619.07L1186.01 619.29L1186.40 619.50L1186.79 619.71L1187.19 619.93L1187.58 620.14L1187.97 620.35L1188.36 620.57L1188.76 620.78L1189.15 620.99L1189.54 621.20L1189.93 621.41L1190.33 621.62L1190.72 621.83L1191.11 622.04L1191.51 622.25L1191.90 622.45L1192.29 622.66L1192.68 622.87L1193.08 623.07L1193.47 623.28L1193.86 623.49L1194.26 623.69L1194.65 623.90L1195.04 624.10L1195.43 624.31L1195.83 624.51L1196.22 624.71L1196.61 624.92L1197.01 625.12L1197.40 625.32L1197.79 625.52L1198.18 625.73L1198.58 625.93L1198.97 626.13L1199.36 626.33L1199.75 626.53L1200.15 626.73L1200.54 626.93L1200.93 627.13L1201.33 627.32L1201.72 627.52L1202.11 627.72L1202.50 627.92L1202.90 628.11L1203.29 628.31L1203.68 628.51L1204.08 628.70L1204.47 628.90L1204.86 629.09L1205.25 629.29L1205.65 629.48L1206.04 629.67L1206.43 629.87L1206.83 630.06L1207.22 630.25L1207.61 630.44L1208.00 630.64L1208.40 630.83L1208.79 631.02L1209.18 631.21L1209.57 631.40L1209.97 631.59L1210.36 631.78L1210.75 631.97L1211.15 632.16L1211.54 632.35L1211.93 632.53L1212.32 632.72L1212.72 632.91L1213.11 633.10L1213.50 633.28L1213.90 633.47L1214.29 633.66L1214.68 633.84L1215.07 634.03L1215.47 634.21L1215.86 634.40L1216.25 634.58L1216.65 634.76L1217.04 634.95L1217.43 635.13L1217.82 635.31L1218.22 635.50L1218.61 635.68L1219.00 635.86L1219.39 636.04L1219.79 636.22L1220.18 636.40L1220.57 636.58L1220.97 636.76L1221.36 636.94L1221.75 637.12L1222.14 637.30L1222.54 637.48L1222.93 637.66L1223.32 637.84L1223.72 638.02L1224.11 638.19L1224.50 638.37L1224.89 638.55L1225.29 638.72L1225.68 638.90L1226.07 639.08L1226.47 639.25L1226.86 639.43L1227.25 639.60L1227.64 639.78L1228.04 639.95L1228.43 640.12L1228.82 640.30L1229.21 640.47L1229.61 640.64L1230.00 640.82L1230.39 640.99L1230.79 641.16L1231.18 641.33L1231.57 641.50L1231.96 641.67L1232.36 641.84L1232.75 642.02L1233.14 642.19L1233.54 642.36L1233.93 642.52L1234.32 642.69L1234.71 642.86L1235.11 643.03L1235.50 643.20L1235.89 643.37L1236.29 643.53L1236.68 643.70L1237.07 643.87L1237.46 644.04L1237.86 644.20L1238.25 644.37L1238.64 644.53L1239.03 644.70L1239.43 644.86L1239.82 645.03L1240.21 645.19L1240.61 645.36L1241.00 645.52L1241.39 645.69L1241.78 645.85L1242.18 646.01L1242.57 646.18L1242.96 646.34L1243.36 646.50L1243.75 646.66L1244.14 646.82L1244.53 646.99L1244.93 647.15L1245.32 647.31L1245.71 647.47L1246.11 647.63L1246.50 647.79L1246.89 647.95L1247.28 648.11L1247.68 648.27L1248.07 648.43L1248.46 648.58L1248.85 648.74L1249.25 648.90L1249.64 649.06L1250.03 649.22L1250.43 649.37L1250.82 649.53L1251.21 649.69L1251.60 649.84L1252.00 650.00L1252.39 650.15L1252.78 650.31L1253.18 650.46L1253.57 650.62L1253.96 650.77L1254.35 650.93L1254.75 651.08L1255.14 651.24L1255.53 651.39L1255.93 651.54L1256.32 651.70L1256.71 651.85L1257.10 652.00L1257.50 652.15L1257.89 652.31L1258.28 652.46L1258.67 652.61L1259.07 652.76L1259.46 652.91L1259.85 653.06L1260.25 653.21L1260.64 653.36L1261.03 653.51L1261.42 653.66L1261.82 653.81L1262.21 653.96L1262.60 654.11L1263.00 654.26L1263.39 654.41L1263.78 654.56L1264.17 654.70L1264.57 654.85L1264.96 655.00L1265.35 655.15L1265.75 655.29L1266.14 655.44L1266.53 655.59L1266.92 655.73L1267.32 655.88L1267.71 656.02L1268.10 656.17L1268.49 656.31L1268.89 656.46L1269.28 656.60L1269.67 656.75L1270.07 656.89L1270.46 657.04L1270.85 657.18L1271.24 657.32L1271.64 657.47L1272.03 657.61L1272.42 657.75L1272.82 657.90L1273.21 658.04L1273.60 658.18L1273.99 658.32L1274.39 658.46L1274.78 658.61L1275.17 658.75L1275.57 658.89L1275.96 659.03L1276.35 659.17L1276.74 659.31L1277.14 659.45L1277.53 659.59L1277.92 659.73L1278.31 659.87L1278.71 660.01L1279.10 660.14L1279.49 660.28L1279.89 660.42L1280.28 660.56L1280.67 660.70L1281.06 660.83L1281.46 660.97L1281.85 661.11L1282.24 661.25L1282.64 661.38L1283.03 661.52L1283.42 661.66L1283.81 661.79L1284.21 661.93L1284.60 662.06L1284.99 662.20L1285.39 662.33L1285.78 662.47L1286.17 662.60L1286.56 662.74L1286.96 662.87L1287.35 663.01L1287.74 663.14L1288.13 663.27L1288.53 663.41L1288.92 663.54L1289.31 663.67L1289.71 663.81L1290.10 663.94L1290.49 664.07L1290.88 664.20L1291.28 664.34L1291.67 664.47L1292.06 664.60L1292.46 664.73L1292.85 664.86L1293.24 664.99L1293.63 665.12L1294.03 665.25L1294.42 665.38L1294.81 665.51L1295.21 665.64L1295.60 665.77L1295.99 665.90L1296.38 666.03L1296.78 666.16L1297.17 666.29L1297.56 666.42L1297.95 666.55L1298.35 666.68L1298.74 666.80L1299.13 666.93L1299.53 667.06L1299.92 667.19L1300.31 667.31L1300.70 667.44L1301.10 667.57L1301.49 667.69L1301.88 667.82L1302.28 667.95L1302.67 668.07L1303.06 668.20L1303.45 668.32L1303.85 668.45L1304.24 668.57L1304.63 668.70L1305.03 668.82L1305.42 668.95L1305.81 669.07L1306.20 669.20L1306.60 669.32L1306.99 669.45L1307.38 669.57L1307.77 669.69L1308.17 669.82L1308.56 669.94L1308.95 670.06L1309.35 670.18L1309.74 670.31L1310.13 670.43L1310.52 670.55L1310.92 670.67L1311.31 670.79L1311.70 670.92L1312.10 671.04L1312.49 671.16L1312.88 671.28L1313.27 671.40L1313.67 671.52L1314.06 671.64L1314.45 671.76L1314.85 671.88L1315.24 672.00L1315.63 672.12L1316.02 672.24L1316.42 672.36L1316.81 672.48L1317.20 672.60L1317.59 672.72L1317.99 672.84L1318.38 672.95L1318.77 673.07L1319.17 673.19L1319.56 673.31L1319.95 673.43L1320.34 673.54L1320.74 673.66L1321.13 673.78L1321.52 673.90L1321.92 674.01L1322.31 674.13L1322.70 674.25L1323.09 674.36L1323.49 674.48L1323.88 674.59L1324.27 674.71L1324.67 674.83L1325.06 674.94L1325.45 675.06L1325.84 675.17L1326.24 675.29L1326.63 675.40L1327.02 675.52L1327.41 675.63L1327.81 675.74L1328.20 675.86L1328.59 675.97L1328.99 676.09L1329.38 676.20L1329.77 676.31L1330.16 676.43L1330.56 676.54L1330.95 676.65L1331.34 676.76L1331.74 676.88L1332.13 676.99L1332.52 677.10L1332.91 677.21L1333.31 677.32L1333.70 677.44L1334.09 677.55L1334.49 677.66L1334.88 677.77L1335.27 677.88L1335.66 677.99L1336.06 678.10L1336.45 678.21L1336.84 678.32L1337.23 678.43L1337.63 678.54L1338.02 678.65L1338.41 678.76L1338.81 678.87L1339.20 678.98L1339.59 679.09L1339.98 679.20L1340.38 679.31L1340.77 679.42L1341.16 679.53L1341.56 679.64L1341.95 679.74L1342.34 679.85L1342.73 679.96L1343.13 680.07L1343.52 680.18L1343.91 680.28L1344.31 680.39L1344.70 680.50L1345.09 680.60L1345.48 680.71L1345.88 680.82L1346.27 680.93L1346.66 681.03L1347.05 681.14L1347.45 681.24L1347.84 681.35L1348.23 681.46L1348.63 681.56L1349.02 681.67L1349.41 681.77L1349.80 681.88L1350.20 681.98L1350.59 682.09L1350.98 682.19L1351.38 682.30L1351.77 682.40L1352.16 682.51L1352.55 682.61L1352.95 682.71L1353.34 682.82" stroke="#21918c" stroke-width="4" stroke-dasharray="4 3.6" fill="none"/>
<path d="M918.23 44.20L918.62 46.87L919.01 49.52L919.41 52.15L919.80 54.76L920.19 57.35L920.58 59.93L920.98 62.49L921.37 65.04L921.76 67.56L922.16 70.07L922.55 72.57L922.94 75.05L923.33 77.51L923.73 79.95L924.12 82.38L924.51 84.80L924.91 87.19L925.30 89.58L925.69 91.94L926.08 94.30L926.48 96.63L926.87 98.96L927.26 101.26L927.66 103.56L928.05 105.83L928.44 108.10L928.83 110.35L929.23 112.59L929.62 114.81L930.01 117.02L930.40 119.21L930.80 121.39L931.19 123.56L931.58 125.72L931.98 127.86L932.37 129.99L932.76 132.10L933.15 134.21L933.55 136.30L933.94 138.37L934.33 140.44L934.73 142.49L935.12 144.53L935.51 146.56L935.90 148.58L936.30 150.58L936.69 152.58L937.08 154.56L937.48 156.53L937.87 158.48L938.26 160.43L938.65 162.37L939.05 164.29L939.44 166.20L939.83 168.11L940.22 170.00L940.62 171.88L941.01 173.75L941.40 175.61L941.80 177.46L942.19 179.29L942.58 181.12L942.97 182.94L943.37 184.75L943.76 186.54L944.15 188.33L944.55 190.11L944.94 191.88L945.33 193.63L945.72 195.38L946.12 197.12L946.51 198.85L946.90 200.57L947.30 202.28L947.69 203.98L948.08 205.67L948.47 207.35L948.87 209.03L949.26 210.69L949.65 212.35L950.04 213.99L950.44 215.63L950.83 217.26L951.22 218.88L951.62 220.49L952.01 222.10L952.40 223.69L952.79 225.28L953.19 226.86L953.58 228.43L953.97 229.99L954.37 231.54L954.76 233.09L955.15 234.63L955.54 236.16L955.94 237.68L956.33 239.19L956.72 240.70L957.12 242.20L957.51 243.69L957.90 245.17L958.29 246.65L958.69 248.12L959.08 249.58L959.47 251.03L959.86 252.48L960.26 253.92L960.65 255.35L961.04 256.77L961.44 258.19L961.83 259.60L962.22 261.01L962.61 262.40L963.01 263.79L963.40 265.18L963.79 266.55L964.19 267.92L964.58 269.29L964.97 270.64L965.36 271.99L965.76 273.34L966.15 274.67L966.54 276.00L966.94 277.33L967.33 278.65L967.72 279.96L968.11 281.26L968.51 282.56L968.90 283.86L969.29 285.14L969.68 286.42L970.08 287.70L970.47 288.97L970.86 290.23L971.26 291.49L971.65 292.74L972.04 293.98L972.43 295.22L972.83 296.46L973.22 297.68L973.61 298.91L974.01 300.12L974.40 301.33L974.79 302.54L975.18 303.74L975.58 304.93L975.97 306.12L976.36 307.31L976.76 308.49L977.15 309.66L977.54 310.83L977.93 311.99L978.33 313.15L978.72 314.30L979.11 315.45L979.50 316.59L979.90 317.72L980.29 318.86L980.68 319.98L981.08 321.11L981.47 322.22L981.86 323.33L982.25 324.44L982.65 325.54L983.04 326.64L983.43 327.73L983.83 328.82L984.22 329.90L984.61 330.98L985.00 332.06L985.40 333.13L985.79 334.19L986.18 335.25L986.58 336.31L986.97 337.36L987.36 338.40L987.75 339.45L988.15 340.48L988.54 341.52L988.93 342.55L989.32 343.57L989.72 344.59L990.11 345.61L990.50 346.62L990.90 347.63L991.29 348.63L991.68 349.63L992.07 350.62L992.47 351.61L992.86 352.60L993.25 353.58L993.65 354.56L994.04 355.54L994.43 356.51L994.82 357.47L995.22 358.44L995.61 359.39L996.00 360.35L996.40 361.30L996.79 362.25L997.18 363.19L997.57 364.13L997.97 365.07L998.36 366.00L998.75 366.93L999.14 367.85L999.54 368.77L999.93 369.69L1000.32 370.60L1000.72 371.51L1001.11 372.42L1001.50 373.32L1001.89 374.22L1002.29 375.11L1002.68 376.01L1003.07 376.89L1003.47 377.78L1003.86 378.66L1004.25 379.54L1004.64 380.41L1005.04 381.28L1005.43 382.15L1005.82 383.02L1006.22 383.88L1006.61 384.73L1007.00 385.59L1007.39 386.44L1007.79 387.29L1008.18 388.13L1008.57 388.97L1008.96 389.81L1009.36 390.65L1009.75 391.48L1010.14 392.31L1010.54 393.13L1010.93 393.96L1011.32 394.78L1011.71 395.59L1012.11 396.40L1012.50 397.21L1012.89 398.02L1013.29 398.83L1013.68 399.63L1014.07 400.42L1014.46 401.22L1014.86 402.01L1015.25 402.80L1015.64 403.59L1016.04 404.37L1016.43 405.15L1016.82 405.93L1017.21 406.70L1017.61 407.48L1018.00 408.24L1018.39 409.01L1018.78 409.77L1019.18 410.54L1019.57 411.29L1019.96 412.05L1020.36 412.80L1020.75 413.55L1021.14 414.30L1021.53 415.04L1021.93 415.78L1022.32 416.52L1022.71 417.26L1023.11 417.99L1023.50 418.72L1023.89 419.45L1024.28 420.18L1024.68 420.90L1025.07 421.62L1025.46 422.34L1025.86 423.06L1026.25 423.77L1026.64 424.48L1027.03 425.19L1027.43 425.90L1027.82 426.60L1028.21 427.30L1028.60 428.00L1029.00 428.69L1029.39 429.39L1029.78 430.08L1030.18 430.77L1030.57 431.45L1030.96 432.14L1031.35 432.82L1031.75 433.50L1032.14 434.18L1032.53 434.85L1032.93 435.52L1033.32 436.19L1033.71 436.86L1034.10 437.53L1034.50 438.19L1034.89 438.85L1035.28 439.51L1035.68 440.17L1036.07 440.82L1036.46 441.47L1036.85 442.12L1037.25 442.77L1037.64 443.42L1038.03 444.06L1038.42 444.70L1038.82 445.34L1039.21 445.98L1039.60 446.61L1040.00 447.24L1040.39 447.87L1040.78 448.50L1041.17 449.13L1041.57 449.75L1041.96 450.38L1042.35 451.00L1042.75 451.62L1043.14 452.23L1043.53 452.85L1043.92 453.46L1044.32 454.07L1044.71 454.68L1045.10 455.28L1045.50 455.89L1045.89 456.49L1046.28 457.09L1046.67 457.69L1047.07 458.29L1047.46 458.88L1047.85 459.47L1048.24 460.06L1048.64 460.65L1049.03 461.24L1049.42 461.83L1049.82 462.41L1050.21 462.99L1050.60 463.57L1050.99 464.15L1051.39 464.72L1051.78 465.30L1052.17 465.87L1052.57 466.44L1052.96 467.01L1053.35 467.58L1053.74 468.14L1054.14 468.71L1054.53 469.27L1054.92 469.83L1055.32 470.38L1055.71 470.94L1056.10 471.50L1056.49 472.05L1056.89 472.60L1057.28 473.15L1057.67 473.70L1058.06 474.24L1058.46 474.79L1058.85 475.33L1059.24 475.87L1059.64 476.41L1060.03 476.95L1060.42 477.49L1060.81 478.02L1061.21 478.55L1061.60 479.09L1061.99 479.61L1062.39 480.14L1062.78 480.67L1063.17 481.19L1063.56 481.72L1063.96 482.24L1064.35 482.76L1064.74 483.28L1065.14 483.80L1065.53 484.31L1065.92 484.83L1066.31 485.34L1066.71 485.85L1067.10 486.36L1067.49 486.87L1067.88 487.37L1068.28 487.88L1068.67 488.38L1069.06 488.88L1069.46 489.38L1069.85 489.88L1070.24 490.38L1070.63 490.88L1071.03 491.37L1071.42 491.86L1071.81 492.35L1072.21 492.85L1072.60 493.33L1072.99 493.82L1073.38 494.31L1073.78 494.79L1074.17 495.28L1074.56 495.76L1074.96 496.24L1075.35 496.72L1075.74 497.19L1076.13 497.67L1076.53 498.14L1076.92 498.62L1077.31 499.09L1077.70 499.56L1078.10 500.03L1078.49 500.50L1078.88 500.97L1079.28 501.43L1079.67 501.90L1080.06 502.36L1080.45 502.82L1080.85 503.28L1081.24 503.74L1081.63 504.20L1082.03 504.65L1082.42 505.11L1082.81 505.56L1083.20 506.01L1083.60 506.47L1083.99 506.92L1084.38 507.36L1084.78 507.81L1085.17 508.26L1085.56 508.70L1085.95 509.15L1086.35 509.59L1086.74 510.03L1087.13 510.47L1087.52 510.91L1087.92 511.35L1088.31 511.78L1088.70 512.22L1089.10 512.65L1089.49 513.08L1089.88 513.52L1090.27 513.95L1090.67 514.38L1091.06 514.80L1091.45 515.23L1091.85 515.66L1092.24 516.08L1092.63 516.51L1093.02 516.93L1093.42 517.35L1093.81 517.77L1094.20 518.19L1094.60 518.61L1094.99 519.02L1095.38 519.44L1095.77 519.85L1096.17 520.27L1096.56 520.68L1096.95 521.09L1097.34 521.50L1097.74 521.91L1098.13 522.32L1098.52 522.72L1098.92 523.13L1099.31 523.53L1099.70 523.94L1100.09 524.34L1100.49 524.74L1100.88 525.14L1101.27 525.54L1101.67 525.94L1102.06 526.33L1102.45 526.73L1102.84 527.13L1103.24 527.52L1103.63 527.91L1104.02 528.30L1104.42 528.70L1104.81 529.09L1105.20 529.47L1105.59 529.86L1105.99 530.25L1106.38 530.64L1106.77 531.02L1107.16 531.40L1107.56 531.79L1107.95 532.17L1108.34 532.55L1108.74 532.93L1109.13 533.31L1109.52 533.69L1109.91 534.06L1110.31 534.44L1110.70 534.82L1111.09 535.19L1111.49 535.56L1111.88 535.94L1112.27 536.31L1112.66 536.68L1113.06 537.05L1113.45 537.42L1113.84 537.78L1114.24 538.15L1114.63 538.51L1115.02 538.88L1115.41 539.24L1115.81 539.61L1116.20 539.97L1116.59 540.33L1116.98 540.69L1117.38 541.05L1117.77 541.41L1118.16 541.77L1118.56 542.12L1118.95 542.48L1119.34 542.83L1119.73 543.19L1120.13 543.54L1120.52 543.89L1120.91 544.24L1121.31 544.59L1121.70 544.94L1122.09 545.29L1122.48 545.64L1122.88 545.99L1123.27 546.33L1123.66 546.68L1124.06 547.02L1124.45 547.37L1124.84 547.71L1125.23 548.05L1125.63 548.39L1126.02 548.73L1126.41 549.07L1126.80 549.41L1127.20 549.75L1127.59 550.09L1127.98 550.42L1128.38 550.76L1128.77 551.09L1129.16 551.43L1129.55 551.76L1129.95 552.09L1130.34 552.42L1130.73 552.76L1131.13 553.08L1131.52 553.41L1131.91 553.74L1132.30 554.07L1132.70 554.40L1133.09 554.72L1133.48 555.05L1133.88 555.37L1134.27 555.70L1134.66 556.02L1135.05 556.34L1135.45 556.66L1135.84 556.98L1136.23 557.30L1136.62 557.62L1137.02 557.94L1137.41 558.26L1137.80 558.57L1138.20 558.89L1138.59 559.21L1138.98 559.52L1139.37 559.83L1139.77 560.15L1140.16 560.46L1140.55 560.77L1140.95 561.08L1141.34 561.39L1141.73 561.70L1142.12 562.01L1142.52 562.32L1142.91 562.63L1143.30 562.93L1143.70 563.24L1144.09 563.54L1144.48 563.85L1144.87 564.15L1145.27 564.46L1145.66 564.76L1146.05 565.06L1146.44 565.36L1146.84 565.66L1147.23 565.96L1147.62 566.26L1148.02 566.56L1148.41 566.86L1148.80 567.15L1149.19 567.45L1149.59 567.74L1149.98 568.04L1150.37 568.33L1150.77 568.63L1151.16 568.92L1151.55 569.21L1151.94 569.50L1152.34 569.79L1152.73 570.09L1153.12 570.37L1153.52 570.66L1153.91 570.95L1154.30 571.24L1154.69 571.53L1155.09 571.81L1155.48 572.10L1155.87 572.38L1156.26 572.67L1156.66 572.95L1157.05 573.24L1157.44 573.52L1157.84 573.80L1158.23 574.08L1158.62 574.36L1159.01 574.64L1159.41 574.92L1159.80 575.20L1160.19 575.48L1160.59 575.76L1160.98 576.03L1161.37 576.31L1161.76 576.59L1162.16 576.86L1162.55 577.14L1162.94 577.41L1163.34 577.68L1163.73 577.96L1164.12 578.23L1164.51 578.50L1164.91 578.77L1165.30 579.04L1165.69 579.31L1166.08 579.58L1166.48 579.85L1166.87 580.12L1167.26 580.39L1167.66 580.65L1168.05 580.92L1168.44 581.19L1168.83 581.45L1169.23 581.72L1169.62 581.98L1170.01 582.24L1170.41 582.51L1170.80 582.77L1171.19 583.03L1171.58 583.29L1171.98 583.55L1172.37 583.81L1172.76 584.07L1173.16 584.33L1173.55 584.59L1173.94 584.85L1174.33 585.11L1174.73 585.36L1175.12 585.62L1175.51 585.88L1175.90 586.13L1176.30 586.39L1176.69 586.64L1177.08 586.89L1177.48 587.15L1177.87 587.40L1178.26 587.65L1178.65 587.90L1179.05 588.15L1179.44 588.41L1179.83 588.66L1180.23 588.90L1180.62 589.15L1181.01 589.40L1181.40 589.65L1181.80 589.90L1182.19 590.14L1182.58 590.39L1182.98 590.64L1183.37 590.88L1183.76 591.13L1184.15 591.37L1184.55 591.62L1184.94 591.86L1185.33 592.10L1185.72 592.34L1186.12 592.59L1186.51 592.83L1186.90 593.07L1187.30 593.31L1187.69 593.55L1188.08 593.79L1188.47 594.03L1188.87 594.27L1189.26 594.50L1189.65 594.74L1190.05 594.98L1190.44 595.21L1190.83 595.45L1191.22 595.69L1191.62 595.92L1192.01 596.16L1192.40 596.39L1192.80 596.62L1193.19 596.86L1193.58 597.09L1193.97 597.32L1194.37 597.55L1194.76 597.78L1195.15 598.02L1195.54 598.25L1195.94 598.48L1196.33 598.71L1196.72 598.93L1197.12 599.16L1197.51 599.39L1197.90 599.62L1198.29 599.85L1198.69 600.07L1199.08 600.30L1199.47 600.52L1199.87 600.75L1200.26 600.97L1200.65 601.20L1201.04 601.42L1201.44 601.65L1201.83 601.87L1202.22 602.09L1202.62 602.32L1203.01 602.54L1203.40 602.76L1203.79 602.98L1204.19 603.20L1204.58 603.42L1204.97 603.64L1205.36 603.86L1205.76 604.08L1206.15 604.30L1206.54 604.51L1206.94 604.73L1207.33 604.95L1207.72 605.17L1208.11 605.38L1208.51 605.60L1208.90 605.81L1209.29 606.03L1209.69 606.24L1210.08 606.46L1210.47 606.67L1210.86 606.88L1211.26 607.10L1211.65 607.31L1212.04 607.52L1212.44 607.73L1212.83 607.95L1213.22 608.16L1213.61 608.37L1214.01 608.58L1214.40 608.79L1214.79 609.00L1215.18 609.21L1215.58 609.41L1215.97 609.62L1216.36 609.83L1216.76 610.04L1217.15 610.24L1217.54 610.45L1217.93 610.66L1218.33 610.86L1218.72 611.07L1219.11 611.27L1219.51 611.48L1219.90 611.68L1220.29 611.89L1220.68 612.09L1221.08 612.29L1221.47 612.50L1221.86 612.70L1222.26 612.90L1222.65 613.10L1223.04 613.30L1223.43 613.50L1223.83 613.70L1224.22 613.90L1224.61 614.10L1225.00 614.30L1225.40 614.50L1225.79 614.70L1226.18 614.90L1226.58 615.10L1226.97 615.29L1227.36 615.49L1227.75 615.69L1228.15 615.88L1228.54 616.08L1228.93 616.28L1229.33 616.47L1229.72 616.67L1230.11 616.86L1230.50 617.05L1230.90 617.25L1231.29 617.44L1231.68 617.64L1232.08 617.83L1232.47 618.02L1232.86 618.21L1233.25 618.40L1233.65 618.60L1234.04 618.79L1234.43 618.98L1234.82 619.17L1235.22 619.36L1235.61 619.55L1236.00 619.74L1236.40 619.93L1236.79 620.11L1237.18 620.30L1237.57 620.49L1237.97 620.68L1238.36 620.87L1238.75 621.05L1239.15 621.24L1239.54 621.43L1239.93 621.61L1240.32 621.80L1240.72 621.98L1241.11 622.17L1241.50 622.35L1241.90 622.54L1242.29 622.72L1242.68 622.90L1243.07 623.09L1243.47 623.27L1243.86 623.45L1244.25 623.63L1244.64 623.82L1245.04 624.00L1245.43 624.18L1245.82 624.36L1246.22 624.54L1246.61 624.72L1247.00 624.90L1247.39 625.08L1247.79 625.26L1248.18 625.44L1248.57 625.62L1248.97 625.80L1249.36 625.98L1249.75 626.15L1250.14 626.33L1250.54 626.51L1250.93 626.68L1251.32 626.86L1251.72 627.04L1252.11 627.21L1252.50 627.39L1252.89 627.56L1253.29 627.74L1253.68 627.91L1254.07 628.09L1254.46 628.26L1254.86 628.44L1255.25 628.61L1255.64 628.78L1256.04 628.96L1256.43 629.13L1256.82 629.30L1257.21 629.47L1257.61 629.65L1258.00 629.82L1258.39 629.99L1258.79 630.16L1259.18 630.33L1259.57 630.50L1259.96 630.67L1260.36 630.84L1260.75 631.01L1261.14 631.18L1261.54 631.35L1261.93 631.52L1262.32 631.68L1262.71 631.85L1263.11 632.02L1263.50 632.19L1263.89 632.35L1264.28 632.52L1264.68 632.69L1265.07 632.85L1265.46 633.02L1265.86 633.18L1266.25 633.35L1266.64 633.52L1267.03 633.68L1267.43 633.84L1267.82 634.01L1268.21 634.17L1268.61 634.34L1269.00 634.50L1269.39 634.66L1269.78 634.83L1270.18 634.99L1270.57 635.15L1270.96 635.31L1271.36 635.47L1271.75 635.64L1272.14 635.80L1272.53 635.96L1272.93 636.12L1273.32 636.28L1273.71 636.44L1274.10 636.60L1274.50 636.76L1274.89 636.92L1275.28 637.08L1275.68 637.24L1276.07 637.40L1276.46 637.55L1276.85 637.71L1277.25 637.87L1277.64 638.03L1278.03 638.18L1278.43 638.34L1278.82 638.50L1279.21 638.65L1279.60 638.81L1280.00 638.97L1280.39 639.12L1280.78 639.28L1281.18 639.43L1281.57 639.59L1281.96 639.74L1282.35 639.90L1282.75 640.05L1283.14 640.21L1283.53 640.36L1283.92 640.51L1284.32 640.67L1284.71 640.82L1285.10 640.97L1285.50 641.12L1285.89 641.28L1286.28 641.43L1286.67 641.58L1287.07 641.73L1287.46 641.88L1287.85 642.03L1288.25 642.18L1288.64 642.33L1289.03 642.49L1289.42 642.64L1289.82 642.78L1290.21 642.93L1290.60 643.08L1291.00 643.23L1291.39 643.38L1291.78 643.53L1292.17 643.68L1292.57 643.83L1292.96 643.97L1293.35 644.12L1293.74 644.27L1294.14 644.42L1294.53 644.56L1294.92 644.71L1295.32 644.86L1295.71 645.00L1296.10 645.15L1296.49 645.29L1296.89 645.44L1297.28 645.58L1297.67 645.73L1298.07 645.87L1298.46 646.02L1298.85 646.16L1299.24 646.31L1299.64 646.45L1300.03 646.60L1300.42 646.74L1300.82 646.88L1301.21 647.02L1301.60 647.17L1301.99 647.31L1302.39 647.45L1302.78 647.59L1303.17 647.74L1303.56 647.88L1303.96 648.02L1304.35 648.16L1304.74 648.30L1305.14 648.44L1305.53 648.58L1305.92 648.72L1306.31 648.86L1306.71 649.00L1307.10 649.14L1307.49 649.28L1307.89 649.42L1308.28 649.56L1308.67 649.70L1309.06 649.84L1309.46 649.98L1309.85 650.11L1310.24 650.25L1310.64 650.39L1311.03 650.53L1311.42 650.66L1311.81 650.80L1312.21 650.94L1312.60 651.08L1312.99 651.21L1313.38 651.35L1313.78 651.48L1314.17 651.62L1314.56 651.76L1314.96 651.89L1315.35 652.03L1315.74 652.16L1316.13 652.30L1316.53 652.43L1316.92 652.56L1317.31 652.70L1317.71 652.83L1318.10 652.97L1318.49 653.10L1318.88 653.23L1319.28 653.37L1319.67 653.50L1320.06 653.63L1320.46 653.76L1320.85 653.90L1321.24 654.03L1321.63 654.16L1322.03 654.29L1322.42 654.42L1322.81 654.56L1323.20 654.69L1323.60 654.82L1323.99 654.95L1324.38 655.08L1324.78 655.21L1325.17 655.34L1325.56 655.47L1325.95 655.60L1326.35 655.73L1326.74 655.86L1327.13 655.99L1327.53 656.12L1327.92 656.25L1328.31 656.37L1328.70 656.50L1329.10 656.63L1329.49 656.76L1329.88 656.89L1330.28 657.01L1330.67 657.14L1331.06 657.27L1331.45 657.40L1331.85 657.52L1332.24 657.65L1332.63 657.78L1333.02 657.90L1333.42 658.03L1333.81 658.15L1334.20 658.28L1334.60 658.41L1334.99 658.53L1335.38 658.66L1335.77 658.78L1336.17 658.91L1336.56 659.03L1336.95 659.16L1337.35 659.28L1337.74 659.40L1338.13 659.53L1338.52 659.65L1338.92 659.77L1339.31 659.90L1339.70 660.02L1340.10 660.14L1340.49 660.27L1340.88 660.39L1341.27 660.51L1341.67 660.63L1342.06 660.76L1342.45 660.88L1342.84 661.00L1343.24 661.12L1343.63 661.24L1344.02 661.36L1344.42 661.49L1344.81 661.61L1345.20 661.73L1345.59 661.85L1345.99 661.97L1346.38 662.09L1346.77 662.21L1347.17 662.33L1347.56 662.45L1347.95 662.57L1348.34 662.69L1348.74 662.81L1349.13 662.92L1349.52 663.04L1349.92 663.16L1350.31 663.28L1350.70 663.40L1351.09 663.52L1351.49 663.63L1351.88 663.75L1352.27 663.87L1352.66 663.99L1353.06 664.11L1353.45 664.22" stroke="#3a538a" stroke-width="4" stroke-dasharray="4 3.6" fill="none"/>
<path d="M921.0 830.8v-8M921.0 44.1v8M960.3 830.8v-8M960.3 44.1v8M999.5 830.8v-8M999.5 44.1v8M1078.1 830.8v-8M1078.1 44.1v8M1156.7 830.8v-8M1156.7 44.1v8M1235.2 830.8v-8M1235.2 44.1v8M1313.8 830.8v-8M1313.8 44.1v8M881.7 830.8h8M1353.2 830.8h-8M881.7 699.7h8M1353.2 699.7h-8M881.7 568.6h8M1353.2 568.6h-8M881.7 437.5h8M1353.2 437.5h-8M881.7 306.4h8M1353.2 306.4h-8M881.7 175.3h8M1353.2 175.3h-8M881.7 44.2h8M1353.2 44.2h-8" stroke="#2e2e2e" stroke-width="1.3" fill="none"/>
<rect x="881.7" y="44.1" width="471.5" height="786.7" stroke="#555555" stroke-width="1.8" fill="none"/>
<text x="921.0" y="874.6" font-size="35" text-anchor="middle" fill="#262626" >15</text>
<text x="960.3" y="874.6" font-size="35" text-anchor="middle" fill="#262626" >20</text>
<text x="999.5" y="874.6" font-size="35" text-anchor="middle" fill="#262626" >25</text>
<text x="1078.1" y="874.6" font-size="35" text-anchor="middle" fill="#262626" >35</text>
<text x="1156.7" y="874.6" font-size="35" text-anchor="middle" fill="#262626" >45</text>
<text x="1235.2" y="874.6" font-size="35" text-anchor="middle" fill="#262626" >55</text>
<text x="1313.8" y="874.6" font-size="35" text-anchor="middle" fill="#262626" >65</text>
<text x="870.5" y="843.1" font-size="35" text-anchor="end" fill="#262626" >0</text>
<text x="870.5" y="712.0" font-size="35" text-anchor="end" fill="#262626" >5</text>
<text x="870.5" y="580.9" font-size="35" text-anchor="end" fill="#262626" >10</text>
<text x="870.5" y="449.8" font-size="35" text-anchor="end" fill="#262626" >15</text>
<text x="870.5" y="318.7" font-size="35" text-anchor="end" fill="#262626" >20</text>
<text x="870.5" y="187.6" font-size="35" text-anchor="end" fill="#262626" >25</text>
<text x="870.5" y="56.5" font-size="35" text-anchor="end" fill="#262626" >30</text>
<rect x="1096.2" y="68.1" width="208" height="193.4" fill="#fff" stroke="#262626" stroke-width="1.3"/>
<path d="M1103.7 96.2H1162" stroke="#f6e625" stroke-width="4" stroke-dasharray="4 3.6"/>
<text x="1170.5" y="106.0" font-size="27.6" fill="#000" word-spacing="0.8"><tspan font-style="italic">λ</tspan> = 0.5 mm</text>
<path d="M1103.7 142.0H1162" stroke="#5cc762" stroke-width="4" stroke-dasharray="4 3.6"/>
<text x="1170.5" y="151.8" font-size="27.6" fill="#000" word-spacing="0.8"><tspan font-style="italic">λ</tspan> = 0.8 mm</text>
<path d="M1103.7 187.8H1162" stroke="#21918c" stroke-width="4" stroke-dasharray="4 3.6"/>
<text x="1170.5" y="197.6" font-size="27.6" fill="#000" word-spacing="0.8"><tspan font-style="italic">λ</tspan> = 1.1 mm</text>
<path d="M1103.7 233.6H1162" stroke="#3a538a" stroke-width="4" stroke-dasharray="4 3.6"/>
<text x="1170.5" y="243.4" font-size="27.6" fill="#000" word-spacing="0.8"><tspan font-style="italic">λ</tspan> = 1.4 mm</text>
<text x="929" y="918.7" font-size="38.4" fill="#262626">Pillar spacing <tspan font-style="italic">s</tspan> (exp.) or</text>
<text x="881" y="963.2" font-size="38.4" fill="#262626">wall spacing <tspan font-style="italic">b</tspan><tspan font-size="30" dx="1" dy="18">c</tspan><tspan dy="-18"> (theory)&#160;&#160; (µm)</tspan></text>
<text transform="translate(806,609) rotate(-90)" font-size="38.4" fill="#262626">Phase speed <tspan font-style="italic">c</tspan><tspan font-size="30" dx="1" dy="17">p</tspan><tspan dy="-17"> (m s</tspan><tspan font-size="31" dy="-19">-1</tspan><tspan dx="1.5" dy="19">)</tspan></text>
<linearGradient id="cb" x1="0" y1="0" x2="0" y2="1"><stop offset="0.0" stop-color="#440154"/><stop offset="0.1" stop-color="#482475"/><stop offset="0.2" stop-color="#414487"/><stop offset="0.3" stop-color="#355f8d"/><stop offset="0.4" stop-color="#2a788e"/><stop offset="0.5" stop-color="#21918c"/><stop offset="0.6" stop-color="#22a884"/><stop offset="0.7" stop-color="#44bf70"/><stop offset="0.8" stop-color="#7ad151"/><stop offset="0.9" stop-color="#bddf26"/><stop offset="1.0" stop-color="#fde725"/></linearGradient>
<rect x="1366.5" y="43.6" width="30.9" height="787.4" fill="url(#cb)" stroke="#262626" stroke-width="1.4"/>
<text x="1408.5" y="768.9" font-size="31.2" text-anchor="start" fill="#262626" >0.6</text>
<text x="1408.5" y="640.7" font-size="31.2" text-anchor="start" fill="#262626" >0.8</text>
<text x="1408.5" y="512.5" font-size="31.2" text-anchor="start" fill="#262626" >1</text>
<text x="1408.5" y="384.2" font-size="31.2" text-anchor="start" fill="#262626" >1.2</text>
<text x="1408.5" y="256.0" font-size="31.2" text-anchor="start" fill="#262626" >1.4</text>
<text x="1408.5" y="127.8" font-size="31.2" text-anchor="start" fill="#262626" >1.6</text>
<path d="M1397.4 758.3h-8M1397.4 630.1h-8M1397.4 501.9h-8M1397.4 373.6h-8M1397.4 245.4h-8M1397.4 117.2h-8" stroke="#262626" stroke-width="1.4"/>
<text transform="translate(1483.2,584.4) rotate(-90)" font-size="34.6" fill="#262626" textLength="286" lengthAdjust="spacing">Wavelength <tspan font-style="italic">λ</tspan> (mm)</text>
</svg>
</body></html>
